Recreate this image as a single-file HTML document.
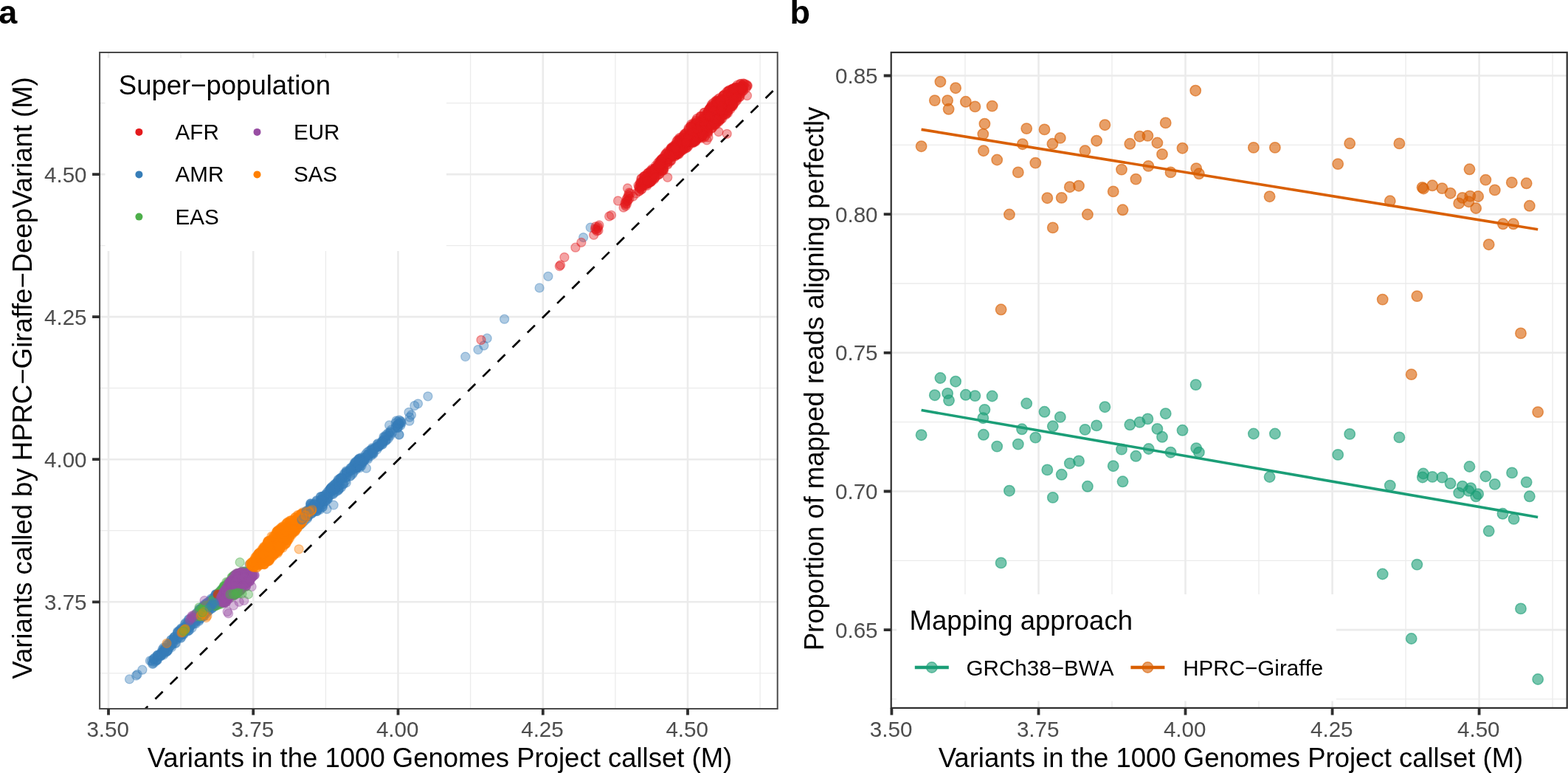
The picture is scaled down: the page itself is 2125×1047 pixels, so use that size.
<!DOCTYPE html>
<html lang="en"><head><meta charset="utf-8"><title>Figure</title><style>html,body{margin:0;padding:0;background:#fff}body{width:2125px;height:1047px;overflow:hidden}svg{display:block}.nk text{font-kerning:none;font-variant-ligatures:none}</style></head><body>
<svg width="2125" height="1047" viewBox="0 0 2125 1047" font-family='"Liberation Sans", Arial, Helvetica, sans-serif'>
<defs>
<clipPath id="ca"><rect x="135.1" y="71.0" width="918.6" height="889.0"/></clipPath>
<clipPath id="cb"><rect x="1207.7" y="71.0" width="915.9999999999998" height="887.9"/></clipPath>
</defs>
<rect width="2125" height="1047" fill="#fff"/>
<g clip-path="url(#ca)">
<g stroke="#ebebeb" fill="none"><path d="M147.0 71.0V960.0" stroke-width="2.6"/><path d="M245.1 71.0V960.0" stroke-width="1.3"/><path d="M343.2 71.0V960.0" stroke-width="2.6"/><path d="M441.4 71.0V960.0" stroke-width="1.3"/><path d="M539.5 71.0V960.0" stroke-width="2.6"/><path d="M637.6 71.0V960.0" stroke-width="1.3"/><path d="M735.8 71.0V960.0" stroke-width="2.6"/><path d="M833.9 71.0V960.0" stroke-width="1.3"/><path d="M932.0 71.0V960.0" stroke-width="2.6"/><path d="M1030.1 71.0V960.0" stroke-width="1.3"/><path d="M135.1 139.6H1053.7" stroke-width="1.3"/><path d="M135.1 236.1H1053.7" stroke-width="2.6"/><path d="M135.1 332.6H1053.7" stroke-width="1.3"/><path d="M135.1 429.1H1053.7" stroke-width="2.6"/><path d="M135.1 525.7H1053.7" stroke-width="1.3"/><path d="M135.1 622.2H1053.7" stroke-width="2.6"/><path d="M135.1 718.7H1053.7" stroke-width="1.3"/><path d="M135.1 815.3H1053.7" stroke-width="2.6"/><path d="M135.1 911.8H1053.7" stroke-width="1.3"/></g>
<rect x="142.5" y="78.5" width="462.5" height="261.5" fill="#fff"/>
<path d="M190.23 966.57L1060.00 110.99" stroke="#000" stroke-width="2.7" stroke-dasharray="14.2 14.1" fill="none"/>
<g fill="#377eb8" stroke="#377eb8" fill-opacity=".4" stroke-opacity=".4" stroke-width="1.3"><circle cx="234.3" cy="871.7" r="6"/><circle cx="231.5" cy="874.7" r="6"/><circle cx="223.8" cy="877.3" r="6"/><circle cx="231.7" cy="874.5" r="6"/><circle cx="253.7" cy="844.9" r="6"/><circle cx="245.1" cy="864.4" r="6"/><circle cx="220.2" cy="886.1" r="6"/><circle cx="250.4" cy="845.4" r="6"/><circle cx="220.6" cy="882.4" r="6"/><circle cx="231.8" cy="866.9" r="6"/><circle cx="245.6" cy="860.1" r="6"/><circle cx="219.9" cy="883.3" r="6"/><circle cx="226.6" cy="873.9" r="6"/><circle cx="208.3" cy="892.9" r="6"/><circle cx="206.6" cy="899.3" r="6"/><circle cx="253.6" cy="853.4" r="6"/><circle cx="232.0" cy="866.4" r="6"/><circle cx="221.7" cy="887.1" r="6"/><circle cx="229.2" cy="870.9" r="6"/><circle cx="215.9" cy="887.1" r="6"/><circle cx="227.8" cy="881.0" r="6"/><circle cx="217.8" cy="887.9" r="6"/><circle cx="250.0" cy="848.9" r="6"/><circle cx="212.7" cy="893.9" r="6"/><circle cx="205.4" cy="895.1" r="6"/><circle cx="211.4" cy="894.6" r="6"/><circle cx="222.2" cy="881.2" r="6"/><circle cx="232.7" cy="876.6" r="6"/><circle cx="219.9" cy="879.9" r="6"/><circle cx="242.4" cy="855.5" r="6"/><circle cx="212.9" cy="888.6" r="6"/><circle cx="236.3" cy="862.5" r="6"/><circle cx="228.7" cy="877.4" r="6"/><circle cx="252.6" cy="849.9" r="6"/><circle cx="252.7" cy="852.8" r="6"/><circle cx="209.5" cy="891.0" r="6"/><circle cx="248.8" cy="859.5" r="6"/><circle cx="235.9" cy="863.3" r="6"/><circle cx="239.3" cy="866.4" r="6"/><circle cx="213.2" cy="894.3" r="6"/><circle cx="238.4" cy="871.2" r="6"/><circle cx="238.3" cy="864.8" r="6"/><circle cx="226.5" cy="872.9" r="6"/><circle cx="241.4" cy="862.4" r="6"/><circle cx="240.8" cy="856.9" r="6"/><circle cx="218.9" cy="883.2" r="6"/><circle cx="245.2" cy="858.4" r="6"/><circle cx="220.9" cy="883.8" r="6"/><circle cx="233.3" cy="868.8" r="6"/><circle cx="217.2" cy="885.8" r="6"/><circle cx="245.9" cy="853.2" r="6"/><circle cx="243.0" cy="863.0" r="6"/><circle cx="245.9" cy="854.2" r="6"/><circle cx="234.1" cy="868.9" r="6"/><circle cx="247.9" cy="852.5" r="6"/><circle cx="254.0" cy="855.2" r="6"/><circle cx="223.2" cy="883.0" r="6"/><circle cx="248.7" cy="858.6" r="6"/><circle cx="210.4" cy="896.2" r="6"/><circle cx="226.2" cy="882.2" r="6"/><circle cx="235.4" cy="865.5" r="6"/><circle cx="235.3" cy="865.2" r="6"/><circle cx="208.0" cy="892.4" r="6"/><circle cx="218.6" cy="887.3" r="6"/><circle cx="209.4" cy="893.6" r="6"/><circle cx="252.8" cy="844.4" r="6"/><circle cx="226.7" cy="881.2" r="6"/><circle cx="213.4" cy="887.1" r="6"/><circle cx="239.9" cy="865.2" r="6"/><circle cx="221.7" cy="877.1" r="6"/><circle cx="214.7" cy="888.3" r="6"/><circle cx="247.3" cy="859.6" r="6"/><circle cx="252.3" cy="850.3" r="6"/><circle cx="224.4" cy="877.8" r="6"/><circle cx="241.5" cy="859.0" r="6"/><circle cx="236.6" cy="862.4" r="6"/><circle cx="246.9" cy="852.2" r="6"/><circle cx="226.2" cy="882.7" r="6"/><circle cx="243.4" cy="853.4" r="6"/><circle cx="230.0" cy="875.5" r="6"/><circle cx="223.6" cy="880.4" r="6"/><circle cx="237.3" cy="871.4" r="6"/><circle cx="246.4" cy="855.2" r="6"/><circle cx="222.7" cy="881.3" r="6"/><circle cx="245.4" cy="863.4" r="6"/><circle cx="234.8" cy="866.4" r="6"/><circle cx="207.5" cy="896.8" r="6"/><circle cx="251.5" cy="843.5" r="6"/><circle cx="240.5" cy="857.0" r="6"/><circle cx="246.2" cy="851.3" r="6"/><circle cx="247.9" cy="858.1" r="6"/><circle cx="252.9" cy="853.9" r="6"/><circle cx="217.7" cy="888.2" r="6"/><circle cx="214.6" cy="890.1" r="6"/><circle cx="215.1" cy="887.9" r="6"/><circle cx="212.7" cy="893.2" r="6"/><circle cx="222.0" cy="879.8" r="6"/><circle cx="252.5" cy="847.3" r="6"/><circle cx="213.4" cy="887.4" r="6"/><circle cx="227.6" cy="879.9" r="6"/><circle cx="222.0" cy="882.8" r="6"/><circle cx="217.9" cy="888.7" r="6"/><circle cx="223.3" cy="884.5" r="6"/><circle cx="245.5" cy="850.9" r="6"/><circle cx="248.2" cy="856.2" r="6"/><circle cx="240.6" cy="855.5" r="6"/><circle cx="232.1" cy="870.2" r="6"/><circle cx="228.9" cy="872.9" r="6"/><circle cx="234.9" cy="870.4" r="6"/><circle cx="207.6" cy="898.9" r="6"/><circle cx="263.2" cy="841.7" r="6"/><circle cx="276.3" cy="834.4" r="6"/><circle cx="257.8" cy="848.2" r="6"/><circle cx="263.0" cy="838.7" r="6"/><circle cx="282.2" cy="815.3" r="6"/><circle cx="288.4" cy="819.7" r="6"/><circle cx="286.2" cy="810.8" r="6"/><circle cx="278.0" cy="828.2" r="6"/><circle cx="292.5" cy="814.6" r="6"/><circle cx="282.8" cy="820.6" r="6"/><circle cx="280.4" cy="826.1" r="6"/><circle cx="286.4" cy="814.4" r="6"/><circle cx="299.9" cy="801.2" r="6"/><circle cx="290.1" cy="810.2" r="6"/><circle cx="270.1" cy="824.8" r="6"/><circle cx="268.8" cy="828.4" r="6"/><circle cx="267.4" cy="834.3" r="6"/><circle cx="289.8" cy="816.7" r="6"/><circle cx="272.2" cy="829.1" r="6"/><circle cx="255.6" cy="843.9" r="6"/><circle cx="273.2" cy="825.3" r="6"/><circle cx="269.4" cy="837.4" r="6"/><circle cx="281.1" cy="827.6" r="6"/><circle cx="274.4" cy="822.1" r="6"/><circle cx="260.1" cy="850.5" r="6"/><circle cx="299.9" cy="805.0" r="6"/><circle cx="287.1" cy="823.9" r="6"/><circle cx="292.3" cy="814.3" r="6"/><circle cx="291.2" cy="820.4" r="6"/><circle cx="271.2" cy="837.9" r="6"/><circle cx="292.8" cy="804.8" r="6"/><circle cx="281.0" cy="828.6" r="6"/><circle cx="289.5" cy="821.9" r="6"/><circle cx="286.9" cy="815.0" r="6"/><circle cx="283.1" cy="827.3" r="6"/><circle cx="295.2" cy="812.8" r="6"/><circle cx="294.9" cy="804.4" r="6"/><circle cx="255.7" cy="838.7" r="6"/><circle cx="269.7" cy="841.3" r="6"/><circle cx="289.5" cy="809.1" r="6"/><circle cx="292.0" cy="805.0" r="6"/><circle cx="270.7" cy="832.4" r="6"/><circle cx="279.5" cy="817.2" r="6"/><circle cx="291.0" cy="813.5" r="6"/><circle cx="278.5" cy="823.8" r="6"/><circle cx="284.7" cy="813.1" r="6"/><circle cx="293.6" cy="807.2" r="6"/><circle cx="265.6" cy="835.8" r="6"/><circle cx="261.4" cy="838.0" r="6"/><circle cx="258.5" cy="847.4" r="6"/><circle cx="265.1" cy="841.8" r="6"/><circle cx="275.4" cy="834.2" r="6"/><circle cx="263.7" cy="838.1" r="6"/><circle cx="258.5" cy="846.2" r="6"/><circle cx="288.5" cy="819.7" r="6"/><circle cx="294.7" cy="812.0" r="6"/><circle cx="286.1" cy="813.5" r="6"/><circle cx="255.9" cy="853.9" r="6"/><circle cx="287.0" cy="813.3" r="6"/><circle cx="285.0" cy="817.1" r="6"/><circle cx="284.9" cy="817.0" r="6"/><circle cx="260.2" cy="838.0" r="6"/><circle cx="266.5" cy="829.9" r="6"/><circle cx="258.6" cy="843.4" r="6"/><circle cx="280.4" cy="816.7" r="6"/><circle cx="281.6" cy="820.2" r="6"/><circle cx="286.8" cy="818.2" r="6"/><circle cx="295.1" cy="806.7" r="6"/><circle cx="280.1" cy="829.1" r="6"/><circle cx="298.8" cy="807.8" r="6"/><circle cx="297.6" cy="805.8" r="6"/><circle cx="271.1" cy="828.3" r="6"/><circle cx="299.0" cy="808.8" r="6"/><circle cx="264.7" cy="840.3" r="6"/><circle cx="280.3" cy="830.8" r="6"/><circle cx="270.1" cy="839.6" r="6"/><circle cx="258.8" cy="846.0" r="6"/><circle cx="255.7" cy="848.2" r="6"/><circle cx="288.1" cy="823.5" r="6"/><circle cx="277.5" cy="818.5" r="6"/><circle cx="276.1" cy="828.0" r="6"/><circle cx="270.0" cy="825.6" r="6"/><circle cx="263.3" cy="839.7" r="6"/><circle cx="285.0" cy="821.7" r="6"/><circle cx="292.8" cy="813.9" r="6"/><circle cx="272.5" cy="837.4" r="6"/><circle cx="288.4" cy="812.7" r="6"/><circle cx="283.9" cy="817.1" r="6"/><circle cx="298.4" cy="805.6" r="6"/><circle cx="277.5" cy="830.1" r="6"/><circle cx="256.7" cy="841.6" r="6"/><circle cx="291.9" cy="806.2" r="6"/><circle cx="261.2" cy="836.0" r="6"/><circle cx="292.9" cy="805.2" r="6"/><circle cx="255.7" cy="839.4" r="6"/><circle cx="291.9" cy="814.0" r="6"/><circle cx="277.5" cy="820.4" r="6"/><circle cx="294.3" cy="807.9" r="6"/><circle cx="288.8" cy="811.7" r="6"/><circle cx="277.6" cy="829.0" r="6"/><circle cx="274.6" cy="825.2" r="6"/><circle cx="274.9" cy="821.0" r="6"/><circle cx="287.9" cy="818.8" r="6"/><circle cx="290.5" cy="815.7" r="6"/><circle cx="296.5" cy="808.6" r="6"/><circle cx="270.5" cy="827.3" r="6"/><circle cx="271.9" cy="834.7" r="6"/><circle cx="256.1" cy="854.0" r="6"/><circle cx="285.7" cy="821.2" r="6"/><circle cx="284.5" cy="825.9" r="6"/><circle cx="257.2" cy="847.3" r="6"/><circle cx="274.5" cy="833.6" r="6"/><circle cx="264.6" cy="843.5" r="6"/><circle cx="265.6" cy="832.6" r="6"/><circle cx="276.1" cy="833.3" r="6"/><circle cx="257.4" cy="849.7" r="6"/><circle cx="274.7" cy="826.7" r="6"/><circle cx="262.6" cy="844.9" r="6"/><circle cx="284.4" cy="820.4" r="6"/><circle cx="291.3" cy="817.1" r="6"/><circle cx="286.5" cy="818.4" r="6"/><circle cx="276.8" cy="821.7" r="6"/><circle cx="271.7" cy="825.6" r="6"/><circle cx="271.8" cy="825.5" r="6"/><circle cx="293.6" cy="814.0" r="6"/><circle cx="299.5" cy="799.0" r="6"/><circle cx="265.4" cy="844.8" r="6"/><circle cx="286.7" cy="816.9" r="6"/><circle cx="274.0" cy="826.4" r="6"/><circle cx="276.5" cy="834.9" r="6"/><circle cx="417.6" cy="699.8" r="6"/><circle cx="363.3" cy="742.0" r="6"/><circle cx="406.6" cy="710.8" r="6"/><circle cx="303.1" cy="802.9" r="6"/><circle cx="306.5" cy="801.2" r="6"/><circle cx="347.7" cy="762.7" r="6"/><circle cx="307.5" cy="804.6" r="6"/><circle cx="330.9" cy="780.1" r="6"/><circle cx="351.2" cy="751.9" r="6"/><circle cx="304.2" cy="798.8" r="6"/><circle cx="378.0" cy="734.7" r="6"/><circle cx="381.1" cy="729.5" r="6"/><circle cx="407.6" cy="710.3" r="6"/><circle cx="409.0" cy="701.9" r="6"/><circle cx="358.2" cy="749.6" r="6"/><circle cx="347.8" cy="761.1" r="6"/><circle cx="418.5" cy="693.6" r="6"/><circle cx="337.1" cy="776.9" r="6"/><circle cx="349.5" cy="753.1" r="6"/><circle cx="409.6" cy="703.3" r="6"/><circle cx="403.0" cy="701.8" r="6"/><circle cx="408.6" cy="699.9" r="6"/><circle cx="316.2" cy="786.9" r="6"/><circle cx="416.6" cy="702.2" r="6"/><circle cx="376.7" cy="730.4" r="6"/><circle cx="405.7" cy="701.4" r="6"/><circle cx="392.3" cy="712.2" r="6"/><circle cx="375.0" cy="729.1" r="6"/><circle cx="300.9" cy="811.8" r="6"/><circle cx="374.9" cy="739.5" r="6"/><circle cx="332.3" cy="779.7" r="6"/><circle cx="374.5" cy="737.1" r="6"/><circle cx="401.6" cy="711.1" r="6"/><circle cx="395.9" cy="722.1" r="6"/><circle cx="407.2" cy="710.5" r="6"/><circle cx="417.5" cy="694.5" r="6"/><circle cx="417.3" cy="699.5" r="6"/><circle cx="417.9" cy="697.0" r="6"/><circle cx="410.5" cy="707.7" r="6"/><circle cx="417.5" cy="691.0" r="6"/><circle cx="353.3" cy="750.4" r="6"/><circle cx="351.0" cy="752.5" r="6"/><circle cx="417.9" cy="697.7" r="6"/><circle cx="301.4" cy="799.1" r="6"/><circle cx="304.3" cy="804.8" r="6"/><circle cx="399.7" cy="714.0" r="6"/><circle cx="313.0" cy="798.0" r="6"/><circle cx="313.5" cy="791.7" r="6"/><circle cx="371.9" cy="733.9" r="6"/><circle cx="301.9" cy="803.2" r="6"/><circle cx="409.1" cy="695.9" r="6"/><circle cx="339.9" cy="772.3" r="6"/><circle cx="330.0" cy="783.0" r="6"/><circle cx="311.2" cy="797.2" r="6"/><circle cx="359.2" cy="745.0" r="6"/><circle cx="381.9" cy="734.1" r="6"/><circle cx="321.9" cy="779.8" r="6"/><circle cx="412.2" cy="697.1" r="6"/><circle cx="404.3" cy="701.1" r="6"/><circle cx="344.1" cy="763.5" r="6"/><circle cx="346.7" cy="758.3" r="6"/><circle cx="318.8" cy="792.3" r="6"/><circle cx="382.2" cy="723.3" r="6"/><circle cx="364.8" cy="751.8" r="6"/><circle cx="358.1" cy="754.2" r="6"/><circle cx="385.8" cy="728.7" r="6"/><circle cx="331.6" cy="778.5" r="6"/><circle cx="413.1" cy="705.3" r="6"/><circle cx="349.8" cy="753.5" r="6"/><circle cx="305.4" cy="799.6" r="6"/><circle cx="409.8" cy="699.6" r="6"/><circle cx="338.0" cy="764.8" r="6"/><circle cx="356.5" cy="746.6" r="6"/><circle cx="388.9" cy="719.8" r="6"/><circle cx="356.3" cy="748.2" r="6"/><circle cx="414.2" cy="695.0" r="6"/><circle cx="356.6" cy="755.0" r="6"/><circle cx="392.5" cy="714.5" r="6"/><circle cx="386.1" cy="730.1" r="6"/><circle cx="403.5" cy="705.9" r="6"/><circle cx="326.9" cy="784.0" r="6"/><circle cx="378.5" cy="729.9" r="6"/><circle cx="346.9" cy="763.7" r="6"/><circle cx="419.3" cy="689.1" r="6"/><circle cx="331.4" cy="774.0" r="6"/><circle cx="415.3" cy="695.1" r="6"/><circle cx="302.5" cy="809.4" r="6"/><circle cx="301.3" cy="802.9" r="6"/><circle cx="323.1" cy="778.3" r="6"/><circle cx="410.8" cy="695.2" r="6"/><circle cx="452.1" cy="664.4" r="6"/><circle cx="434.4" cy="681.1" r="6"/><circle cx="519.9" cy="591.6" r="6"/><circle cx="457.3" cy="655.4" r="6"/><circle cx="514.4" cy="603.6" r="6"/><circle cx="433.6" cy="690.3" r="6"/><circle cx="481.7" cy="625.5" r="6"/><circle cx="427.1" cy="689.2" r="6"/><circle cx="454.3" cy="661.3" r="6"/><circle cx="489.7" cy="619.7" r="6"/><circle cx="437.0" cy="672.5" r="6"/><circle cx="450.7" cy="668.9" r="6"/><circle cx="429.6" cy="692.5" r="6"/><circle cx="491.8" cy="625.6" r="6"/><circle cx="503.9" cy="613.3" r="6"/><circle cx="430.3" cy="687.2" r="6"/><circle cx="448.7" cy="660.7" r="6"/><circle cx="468.9" cy="646.4" r="6"/><circle cx="519.5" cy="598.8" r="6"/><circle cx="426.0" cy="683.2" r="6"/><circle cx="489.5" cy="627.3" r="6"/><circle cx="480.0" cy="627.6" r="6"/><circle cx="421.7" cy="696.2" r="6"/><circle cx="448.5" cy="666.3" r="6"/><circle cx="467.7" cy="647.8" r="6"/><circle cx="490.2" cy="630.7" r="6"/><circle cx="486.6" cy="621.4" r="6"/><circle cx="445.1" cy="668.6" r="6"/><circle cx="437.2" cy="686.6" r="6"/><circle cx="423.4" cy="695.1" r="6"/><circle cx="436.9" cy="681.3" r="6"/><circle cx="510.8" cy="605.2" r="6"/><circle cx="494.3" cy="623.3" r="6"/><circle cx="469.7" cy="646.4" r="6"/><circle cx="469.2" cy="640.2" r="6"/><circle cx="511.0" cy="601.9" r="6"/><circle cx="430.4" cy="689.2" r="6"/><circle cx="460.7" cy="661.0" r="6"/><circle cx="421.2" cy="682.9" r="6"/><circle cx="455.4" cy="659.3" r="6"/><circle cx="505.1" cy="607.9" r="6"/><circle cx="437.6" cy="683.0" r="6"/><circle cx="489.0" cy="624.8" r="6"/><circle cx="429.4" cy="679.8" r="6"/><circle cx="502.3" cy="613.6" r="6"/><circle cx="493.2" cy="619.4" r="6"/><circle cx="488.3" cy="623.7" r="6"/><circle cx="521.4" cy="594.2" r="6"/><circle cx="463.2" cy="647.6" r="6"/><circle cx="457.9" cy="659.6" r="6"/><circle cx="486.1" cy="632.1" r="6"/><circle cx="485.7" cy="628.1" r="6"/><circle cx="528.7" cy="590.5" r="6"/><circle cx="429.3" cy="677.7" r="6"/><circle cx="488.2" cy="631.4" r="6"/><circle cx="462.7" cy="660.1" r="6"/><circle cx="442.1" cy="670.4" r="6"/><circle cx="437.2" cy="686.9" r="6"/><circle cx="433.2" cy="688.7" r="6"/><circle cx="538.4" cy="575.4" r="6"/><circle cx="444.0" cy="673.1" r="6"/><circle cx="449.6" cy="659.3" r="6"/><circle cx="476.3" cy="633.5" r="6"/><circle cx="434.7" cy="672.7" r="6"/><circle cx="542.3" cy="573.0" r="6"/><circle cx="499.5" cy="617.3" r="6"/><circle cx="420.5" cy="695.5" r="6"/><circle cx="456.1" cy="656.9" r="6"/><circle cx="486.6" cy="628.7" r="6"/><circle cx="490.5" cy="623.5" r="6"/><circle cx="525.9" cy="586.5" r="6"/><circle cx="519.2" cy="599.3" r="6"/><circle cx="457.3" cy="657.2" r="6"/><circle cx="539.1" cy="579.7" r="6"/><circle cx="465.7" cy="655.3" r="6"/><circle cx="429.0" cy="678.4" r="6"/><circle cx="501.9" cy="614.2" r="6"/><circle cx="526.0" cy="594.2" r="6"/><circle cx="543.6" cy="571.5" r="6"/><circle cx="458.1" cy="649.7" r="6"/><circle cx="483.9" cy="630.0" r="6"/><circle cx="536.5" cy="577.1" r="6"/><circle cx="512.5" cy="605.1" r="6"/><circle cx="468.7" cy="642.8" r="6"/><circle cx="500.1" cy="610.7" r="6"/><circle cx="511.2" cy="604.9" r="6"/><circle cx="523.1" cy="596.3" r="6"/><circle cx="455.9" cy="654.0" r="6"/><circle cx="480.0" cy="635.1" r="6"/><circle cx="486.1" cy="624.1" r="6"/><circle cx="424.3" cy="687.0" r="6"/><circle cx="542.9" cy="576.2" r="6"/><circle cx="492.4" cy="623.1" r="6"/><circle cx="434.6" cy="677.4" r="6"/><circle cx="464.3" cy="647.7" r="6"/><circle cx="420.8" cy="682.2" r="6"/><circle cx="489.4" cy="628.1" r="6"/><circle cx="498.3" cy="620.3" r="6"/><circle cx="463.1" cy="647.0" r="6"/><circle cx="488.0" cy="621.5" r="6"/><circle cx="541.4" cy="574.3" r="6"/><circle cx="437.6" cy="683.5" r="6"/><circle cx="448.8" cy="666.2" r="6"/><circle cx="498.4" cy="615.3" r="6"/><circle cx="524.7" cy="590.6" r="6"/><circle cx="430.6" cy="689.1" r="6"/><circle cx="538.2" cy="576.0" r="6"/><circle cx="495.3" cy="619.7" r="6"/><circle cx="491.1" cy="627.3" r="6"/><circle cx="492.8" cy="621.7" r="6"/><circle cx="458.8" cy="650.4" r="6"/><circle cx="464.2" cy="655.2" r="6"/><circle cx="530.4" cy="581.9" r="6"/><circle cx="459.0" cy="653.8" r="6"/><circle cx="439.7" cy="678.8" r="6"/><circle cx="441.6" cy="670.0" r="6"/><circle cx="466.3" cy="641.7" r="6"/><circle cx="423.5" cy="687.7" r="6"/><circle cx="538.6" cy="579.0" r="6"/><circle cx="527.5" cy="589.5" r="6"/><circle cx="426.6" cy="687.9" r="6"/><circle cx="434.5" cy="677.5" r="6"/><circle cx="493.7" cy="623.8" r="6"/><circle cx="464.3" cy="648.3" r="6"/><circle cx="447.5" cy="662.6" r="6"/><circle cx="461.5" cy="650.9" r="6"/><circle cx="517.4" cy="597.7" r="6"/><circle cx="519.5" cy="596.1" r="6"/><circle cx="472.8" cy="638.0" r="6"/><circle cx="448.2" cy="661.4" r="6"/><circle cx="482.8" cy="631.5" r="6"/><circle cx="510.9" cy="605.3" r="6"/><circle cx="441.7" cy="678.8" r="6"/><circle cx="507.1" cy="608.6" r="6"/><circle cx="519.6" cy="596.1" r="6"/><circle cx="502.6" cy="617.4" r="6"/><circle cx="453.6" cy="655.7" r="6"/><circle cx="504.8" cy="612.8" r="6"/><circle cx="457.2" cy="652.8" r="6"/><circle cx="469.1" cy="637.9" r="6"/><circle cx="528.7" cy="585.8" r="6"/><circle cx="453.9" cy="662.8" r="6"/><circle cx="481.2" cy="628.4" r="6"/><circle cx="523.2" cy="597.1" r="6"/><circle cx="485.4" cy="623.3" r="6"/><circle cx="484.0" cy="633.6" r="6"/><circle cx="458.6" cy="662.5" r="6"/><circle cx="469.6" cy="639.9" r="6"/><circle cx="514.0" cy="603.3" r="6"/><circle cx="452.8" cy="658.5" r="6"/><circle cx="472.6" cy="639.7" r="6"/><circle cx="515.6" cy="602.0" r="6"/><circle cx="522.4" cy="591.2" r="6"/><circle cx="495.0" cy="619.7" r="6"/><circle cx="424.0" cy="691.0" r="6"/><circle cx="485.0" cy="632.4" r="6"/><circle cx="486.8" cy="624.6" r="6"/><circle cx="420.8" cy="681.9" r="6"/><circle cx="444.6" cy="673.5" r="6"/><circle cx="461.7" cy="648.0" r="6"/><circle cx="492.9" cy="622.0" r="6"/><circle cx="486.7" cy="625.7" r="6"/><circle cx="426.1" cy="687.4" r="6"/><circle cx="481.2" cy="630.4" r="6"/><circle cx="426.8" cy="691.1" r="6"/><circle cx="460.4" cy="657.5" r="6"/><circle cx="443.8" cy="666.2" r="6"/><circle cx="475.3" cy="636.4" r="6"/><circle cx="511.0" cy="608.8" r="6"/><circle cx="504.4" cy="606.7" r="6"/><circle cx="444.3" cy="676.2" r="6"/><circle cx="437.0" cy="672.4" r="6"/><circle cx="460.7" cy="648.0" r="6"/><circle cx="445.8" cy="664.5" r="6"/><circle cx="507.3" cy="607.3" r="6"/><circle cx="428.9" cy="691.7" r="6"/><circle cx="492.0" cy="624.6" r="6"/><circle cx="531.5" cy="586.3" r="6"/><circle cx="447.1" cy="663.7" r="6"/><circle cx="475.5" cy="637.0" r="6"/><circle cx="445.0" cy="669.2" r="6"/><circle cx="505.9" cy="609.5" r="6"/><circle cx="463.9" cy="648.2" r="6"/><circle cx="433.8" cy="680.2" r="6"/><circle cx="480.4" cy="629.0" r="6"/><circle cx="480.2" cy="629.7" r="6"/><circle cx="440.3" cy="679.4" r="6"/><circle cx="498.8" cy="615.7" r="6"/><circle cx="544.1" cy="573.1" r="6"/><circle cx="535.8" cy="579.6" r="6"/><circle cx="478.9" cy="639.8" r="6"/><circle cx="465.2" cy="656.1" r="6"/><circle cx="518.3" cy="598.8" r="6"/><circle cx="518.4" cy="597.7" r="6"/><circle cx="426.1" cy="692.7" r="6"/><circle cx="451.8" cy="657.4" r="6"/><circle cx="469.1" cy="639.1" r="6"/><circle cx="458.9" cy="663.2" r="6"/><circle cx="469.3" cy="653.8" r="6"/><circle cx="543.0" cy="570.3" r="6"/><circle cx="485.6" cy="624.2" r="6"/><circle cx="527.5" cy="587.1" r="6"/><circle cx="511.7" cy="605.1" r="6"/><circle cx="435.1" cy="678.8" r="6"/><circle cx="483.5" cy="632.0" r="6"/><circle cx="451.5" cy="669.5" r="6"/><circle cx="505.9" cy="615.0" r="6"/><circle cx="458.9" cy="658.1" r="6"/><circle cx="528.9" cy="584.5" r="6"/><circle cx="498.6" cy="622.1" r="6"/><circle cx="481.5" cy="634.9" r="6"/><circle cx="425.9" cy="682.8" r="6"/><circle cx="491.0" cy="625.9" r="6"/><circle cx="495.1" cy="615.7" r="6"/><circle cx="448.2" cy="664.8" r="6"/><circle cx="504.7" cy="614.6" r="6"/><circle cx="429.3" cy="689.0" r="6"/><circle cx="504.6" cy="612.9" r="6"/><circle cx="513.0" cy="602.0" r="6"/><circle cx="443.1" cy="674.0" r="6"/><circle cx="448.0" cy="663.7" r="6"/><circle cx="498.2" cy="616.9" r="6"/><circle cx="455.9" cy="665.8" r="6"/><circle cx="424.1" cy="690.6" r="6"/><circle cx="440.3" cy="673.5" r="6"/><circle cx="474.4" cy="645.2" r="6"/><circle cx="492.7" cy="622.4" r="6"/><circle cx="486.6" cy="630.8" r="6"/><circle cx="477.9" cy="642.1" r="6"/><circle cx="482.2" cy="626.9" r="6"/><circle cx="495.0" cy="620.5" r="6"/><circle cx="423.2" cy="691.3" r="6"/><circle cx="420.6" cy="684.8" r="6"/><circle cx="515.5" cy="601.9" r="6"/><circle cx="458.0" cy="653.9" r="6"/><circle cx="487.9" cy="628.2" r="6"/><circle cx="454.1" cy="656.0" r="6"/><circle cx="447.6" cy="670.8" r="6"/><circle cx="442.5" cy="676.5" r="6"/><circle cx="424.1" cy="685.4" r="6"/><circle cx="522.5" cy="596.1" r="6"/><circle cx="468.1" cy="651.4" r="6"/><circle cx="453.2" cy="660.9" r="6"/><circle cx="520.9" cy="592.3" r="6"/><circle cx="470.4" cy="640.4" r="6"/><circle cx="438.9" cy="672.1" r="6"/><circle cx="502.6" cy="609.3" r="6"/><circle cx="497.5" cy="612.8" r="6"/><circle cx="465.8" cy="644.0" r="6"/><circle cx="488.0" cy="625.2" r="6"/><circle cx="444.6" cy="675.1" r="6"/><circle cx="436.7" cy="677.8" r="6"/><circle cx="453.0" cy="667.2" r="6"/><circle cx="498.3" cy="615.7" r="6"/><circle cx="507.1" cy="607.5" r="6"/><circle cx="512.0" cy="600.7" r="6"/><circle cx="423.1" cy="694.5" r="6"/><circle cx="421.8" cy="686.9" r="6"/><circle cx="482.3" cy="636.4" r="6"/><circle cx="482.9" cy="633.5" r="6"/><circle cx="503.0" cy="609.8" r="6"/><circle cx="429.3" cy="692.4" r="6"/><circle cx="427.8" cy="687.4" r="6"/><circle cx="436.4" cy="675.1" r="6"/><circle cx="431.9" cy="687.9" r="6"/><circle cx="484.0" cy="633.4" r="6"/><circle cx="447.3" cy="662.3" r="6"/><circle cx="434.5" cy="672.8" r="6"/><circle cx="422.6" cy="683.5" r="6"/><circle cx="441.1" cy="669.5" r="6"/><circle cx="432.3" cy="683.3" r="6"/><circle cx="506.4" cy="613.3" r="6"/><circle cx="478.4" cy="631.2" r="6"/><circle cx="489.5" cy="623.6" r="6"/><circle cx="451.7" cy="663.7" r="6"/><circle cx="461.8" cy="647.1" r="6"/><circle cx="487.8" cy="633.5" r="6"/><circle cx="518.3" cy="598.6" r="6"/><circle cx="518.4" cy="601.9" r="6"/><circle cx="539.6" cy="578.4" r="6"/><circle cx="540.5" cy="573.2" r="6"/><circle cx="423.9" cy="685.4" r="6"/><circle cx="436.3" cy="676.0" r="6"/><circle cx="487.5" cy="622.8" r="6"/><circle cx="475.4" cy="644.3" r="6"/><circle cx="458.4" cy="664.2" r="6"/><circle cx="456.8" cy="660.4" r="6"/><circle cx="513.4" cy="605.2" r="6"/><circle cx="486.8" cy="621.0" r="6"/><circle cx="426.0" cy="682.6" r="6"/><circle cx="454.5" cy="663.0" r="6"/><circle cx="538.2" cy="576.6" r="6"/><circle cx="523.1" cy="589.1" r="6"/><circle cx="475.8" cy="637.6" r="6"/><circle cx="448.3" cy="661.1" r="6"/><circle cx="474.6" cy="635.8" r="6"/><circle cx="475.0" cy="633.8" r="6"/><circle cx="485.4" cy="622.5" r="6"/><circle cx="517.9" cy="602.0" r="6"/><circle cx="482.4" cy="625.7" r="6"/><circle cx="175.5" cy="919.9" r="6"/><circle cx="184.6" cy="915.0" r="6"/><circle cx="186.2" cy="913.4" r="6"/><circle cx="192.9" cy="907.2" r="6"/><circle cx="203.3" cy="894.9" r="6"/><circle cx="452.1" cy="684.1" r="6"/><circle cx="443.0" cy="689.5" r="6"/><circle cx="496.4" cy="634.2" r="6"/><circle cx="541.0" cy="588.6" r="6"/><circle cx="540.8" cy="589.1" r="6"/><circle cx="527.6" cy="575.9" r="6"/><circle cx="554.9" cy="570.2" r="6"/><circle cx="554.0" cy="558.5" r="6"/><circle cx="557.5" cy="562.0" r="6"/><circle cx="555.2" cy="565.0" r="6"/><circle cx="561.8" cy="549.5" r="6"/><circle cx="566.5" cy="546.8" r="6"/><circle cx="579.9" cy="536.8" r="6"/><circle cx="536.0" cy="573.0" r="6"/><circle cx="539.0" cy="571.0" r="6"/><circle cx="540.0" cy="574.5" r="6"/><circle cx="537.0" cy="570.0" r="6"/><circle cx="541.0" cy="569.0" r="6"/><circle cx="630.7" cy="483.1" r="6"/><circle cx="647.9" cy="473.6" r="6"/><circle cx="655.8" cy="468.0" r="6"/><circle cx="660.1" cy="458.2" r="6"/><circle cx="683.6" cy="432.2" r="6"/><circle cx="731.1" cy="389.9" r="6"/><circle cx="742.9" cy="374.3" r="6"/><circle cx="790.6" cy="321.6" r="6"/><circle cx="800.2" cy="308.1" r="6"/></g>
<g fill="#ff7f00" stroke="#ff7f00" fill-opacity=".4" stroke-opacity=".4" stroke-width="1.3"><circle cx="225.9" cy="871.4" r="6"/><circle cx="247.0" cy="856.0" r="6"/><circle cx="250.0" cy="853.0" r="6"/></g>
<g fill="#4daf4a" stroke="#4daf4a" fill-opacity=".4" stroke-opacity=".4" stroke-width="1.3"><circle cx="320.3" cy="787.6" r="6"/><circle cx="329.9" cy="792.1" r="6"/><circle cx="335.6" cy="785.9" r="6"/><circle cx="322.0" cy="776.5" r="6"/><circle cx="303.9" cy="793.8" r="6"/><circle cx="311.8" cy="789.4" r="6"/><circle cx="322.5" cy="784.6" r="6"/><circle cx="303.6" cy="797.6" r="6"/><circle cx="297.4" cy="811.1" r="6"/><circle cx="318.1" cy="778.9" r="6"/><circle cx="299.4" cy="818.2" r="6"/><circle cx="320.8" cy="800.0" r="6"/><circle cx="328.6" cy="775.8" r="6"/><circle cx="337.2" cy="781.2" r="6"/><circle cx="297.5" cy="802.0" r="6"/><circle cx="327.2" cy="775.1" r="6"/><circle cx="297.5" cy="805.3" r="6"/><circle cx="311.8" cy="790.4" r="6"/><circle cx="328.9" cy="780.6" r="6"/><circle cx="305.5" cy="812.6" r="6"/><circle cx="323.7" cy="786.3" r="6"/><circle cx="302.9" cy="804.7" r="6"/><circle cx="329.2" cy="777.5" r="6"/><circle cx="307.2" cy="809.8" r="6"/><circle cx="303.3" cy="796.9" r="6"/><circle cx="304.3" cy="813.9" r="6"/><circle cx="299.3" cy="816.6" r="6"/><circle cx="299.6" cy="805.1" r="6"/><circle cx="337.0" cy="783.3" r="6"/><circle cx="311.3" cy="796.3" r="6"/><circle cx="310.0" cy="798.0" r="6"/><circle cx="307.1" cy="806.8" r="6"/><circle cx="310.1" cy="802.6" r="6"/><circle cx="314.9" cy="790.0" r="6"/><circle cx="328.1" cy="786.6" r="6"/><circle cx="307.8" cy="809.9" r="6"/><circle cx="316.7" cy="800.1" r="6"/><circle cx="300.4" cy="799.0" r="6"/><circle cx="322.4" cy="784.6" r="6"/><circle cx="306.0" cy="797.9" r="6"/><circle cx="295.1" cy="805.1" r="6"/><circle cx="314.6" cy="781.9" r="6"/><circle cx="320.2" cy="786.7" r="6"/><circle cx="316.1" cy="785.7" r="6"/><circle cx="329.3" cy="782.7" r="6"/><circle cx="322.3" cy="800.7" r="6"/><circle cx="303.9" cy="803.5" r="6"/><circle cx="296.1" cy="819.0" r="6"/><circle cx="295.5" cy="813.3" r="6"/><circle cx="301.3" cy="798.1" r="6"/><circle cx="294.4" cy="819.5" r="6"/><circle cx="297.7" cy="817.4" r="6"/><circle cx="313.7" cy="792.6" r="6"/><circle cx="322.7" cy="776.3" r="6"/><circle cx="317.7" cy="806.1" r="6"/><circle cx="292.5" cy="817.8" r="6"/><circle cx="301.9" cy="801.8" r="6"/><circle cx="317.7" cy="797.3" r="6"/><circle cx="307.6" cy="808.4" r="6"/><circle cx="316.7" cy="779.4" r="6"/><circle cx="313.9" cy="786.3" r="6"/><circle cx="332.1" cy="786.2" r="6"/><circle cx="322.4" cy="778.4" r="6"/><circle cx="318.4" cy="779.4" r="6"/><circle cx="328.3" cy="787.9" r="6"/><circle cx="318.0" cy="792.9" r="6"/><circle cx="297.2" cy="801.4" r="6"/><circle cx="330.8" cy="775.4" r="6"/><circle cx="301.7" cy="796.9" r="6"/><circle cx="300.6" cy="808.0" r="6"/><circle cx="299.3" cy="805.0" r="6"/><circle cx="311.1" cy="803.4" r="6"/><circle cx="299.5" cy="813.9" r="6"/><circle cx="330.2" cy="790.0" r="6"/><circle cx="302.1" cy="797.0" r="6"/><circle cx="333.2" cy="774.3" r="6"/><circle cx="306.0" cy="811.4" r="6"/><circle cx="297.6" cy="806.6" r="6"/><circle cx="328.6" cy="785.2" r="6"/><circle cx="298.4" cy="804.8" r="6"/><circle cx="321.7" cy="790.7" r="6"/><circle cx="302.3" cy="802.9" r="6"/><circle cx="325.2" cy="792.7" r="6"/><circle cx="329.0" cy="790.9" r="6"/><circle cx="319.9" cy="780.8" r="6"/><circle cx="308.6" cy="788.7" r="6"/><circle cx="331.5" cy="790.7" r="6"/><circle cx="299.5" cy="815.2" r="6"/><circle cx="318.4" cy="795.5" r="6"/><circle cx="295.9" cy="803.6" r="6"/><circle cx="325.6" cy="790.1" r="6"/><circle cx="292.4" cy="820.7" r="6"/><circle cx="303.1" cy="800.6" r="6"/><circle cx="301.0" cy="815.9" r="6"/><circle cx="301.5" cy="814.6" r="6"/><circle cx="310.9" cy="797.1" r="6"/><circle cx="304.0" cy="794.8" r="6"/><circle cx="300.4" cy="809.0" r="6"/><circle cx="308.5" cy="790.8" r="6"/><circle cx="308.4" cy="803.0" r="6"/><circle cx="303.2" cy="793.6" r="6"/><circle cx="316.8" cy="806.5" r="6"/><circle cx="320.6" cy="801.3" r="6"/><circle cx="304.9" cy="812.0" r="6"/><circle cx="333.0" cy="788.5" r="6"/><circle cx="324.0" cy="792.6" r="6"/><circle cx="327.3" cy="790.8" r="6"/><circle cx="328.2" cy="774.1" r="6"/><circle cx="319.7" cy="791.7" r="6"/><circle cx="301.6" cy="806.1" r="6"/><circle cx="310.2" cy="796.6" r="6"/><circle cx="302.6" cy="816.0" r="6"/><circle cx="320.1" cy="797.4" r="6"/><circle cx="335.0" cy="778.4" r="6"/><circle cx="316.5" cy="801.2" r="6"/><circle cx="323.4" cy="777.3" r="6"/><circle cx="290.4" cy="820.3" r="6"/><circle cx="335.2" cy="787.0" r="6"/><circle cx="297.8" cy="809.2" r="6"/><circle cx="335.8" cy="785.8" r="6"/><circle cx="313.1" cy="786.1" r="6"/><circle cx="303.1" cy="809.3" r="6"/><circle cx="332.0" cy="775.9" r="6"/><circle cx="320.9" cy="804.1" r="6"/><circle cx="307.6" cy="795.2" r="6"/><circle cx="316.8" cy="805.8" r="6"/><circle cx="307.8" cy="795.5" r="6"/><circle cx="295.6" cy="809.3" r="6"/><circle cx="336.9" cy="774.3" r="6"/><circle cx="306.9" cy="788.4" r="6"/><circle cx="320.1" cy="801.2" r="6"/><circle cx="317.6" cy="799.8" r="6"/><circle cx="319.2" cy="794.1" r="6"/><circle cx="319.1" cy="801.3" r="6"/><circle cx="331.0" cy="790.0" r="6"/><circle cx="329.3" cy="786.8" r="6"/><circle cx="333.9" cy="774.4" r="6"/><circle cx="326.9" cy="793.3" r="6"/><circle cx="310.5" cy="795.6" r="6"/><circle cx="335.5" cy="774.6" r="6"/><circle cx="334.8" cy="784.6" r="6"/><circle cx="296.0" cy="809.8" r="6"/><circle cx="330.1" cy="786.8" r="6"/><circle cx="322.9" cy="784.6" r="6"/><circle cx="299.3" cy="802.0" r="6"/><circle cx="326.5" cy="796.9" r="6"/><circle cx="313.9" cy="781.9" r="6"/><circle cx="302.2" cy="807.2" r="6"/><circle cx="328.2" cy="784.2" r="6"/><circle cx="295.4" cy="817.0" r="6"/><circle cx="314.3" cy="793.1" r="6"/><circle cx="338.0" cy="781.0" r="6"/><circle cx="294.5" cy="811.0" r="6"/><circle cx="308.2" cy="799.3" r="6"/><circle cx="292.2" cy="815.5" r="6"/><circle cx="334.1" cy="782.6" r="6"/><circle cx="316.5" cy="780.5" r="6"/><circle cx="298.7" cy="802.0" r="6"/><circle cx="294.2" cy="816.7" r="6"/><circle cx="316.3" cy="799.1" r="6"/><circle cx="326.8" cy="778.1" r="6"/><circle cx="325.7" cy="796.1" r="6"/><circle cx="329.5" cy="776.2" r="6"/><circle cx="303.5" cy="801.4" r="6"/><circle cx="315.5" cy="782.0" r="6"/><circle cx="310.7" cy="792.2" r="6"/><circle cx="316.4" cy="786.2" r="6"/><circle cx="327.4" cy="775.8" r="6"/><circle cx="310.8" cy="794.8" r="6"/><circle cx="312.9" cy="809.1" r="6"/><circle cx="302.2" cy="811.8" r="6"/><circle cx="329.9" cy="785.1" r="6"/><circle cx="314.9" cy="785.9" r="6"/><circle cx="306.4" cy="801.0" r="6"/><circle cx="301.9" cy="808.3" r="6"/><circle cx="314.4" cy="796.7" r="6"/><circle cx="335.3" cy="783.1" r="6"/><circle cx="318.2" cy="805.5" r="6"/><circle cx="292.9" cy="815.8" r="6"/><circle cx="304.8" cy="814.8" r="6"/><circle cx="325.4" cy="793.6" r="6"/><circle cx="311.4" cy="806.4" r="6"/><circle cx="329.6" cy="775.5" r="6"/><circle cx="291.9" cy="820.2" r="6"/><circle cx="302.6" cy="814.7" r="6"/><circle cx="331.0" cy="774.2" r="6"/><circle cx="321.2" cy="786.1" r="6"/><circle cx="311.3" cy="788.5" r="6"/><circle cx="328.5" cy="779.1" r="6"/><circle cx="320.3" cy="799.7" r="6"/><circle cx="321.8" cy="803.4" r="6"/><circle cx="329.2" cy="787.4" r="6"/><circle cx="323.3" cy="788.4" r="6"/><circle cx="295.5" cy="816.3" r="6"/><circle cx="302.2" cy="798.2" r="6"/><circle cx="324.2" cy="780.1" r="6"/><circle cx="293.3" cy="813.1" r="6"/><circle cx="303.7" cy="794.6" r="6"/><circle cx="311.3" cy="802.8" r="6"/><circle cx="331.0" cy="787.2" r="6"/><circle cx="273.6" cy="832.4" r="6"/><circle cx="270.6" cy="826.7" r="6"/><circle cx="275.1" cy="824.4" r="6"/><circle cx="265.4" cy="831.7" r="6"/><circle cx="288.0" cy="819.8" r="6"/><circle cx="278.2" cy="820.1" r="6"/><circle cx="279.8" cy="824.3" r="6"/><circle cx="280.3" cy="821.5" r="6"/><circle cx="270.1" cy="835.0" r="6"/><circle cx="274.1" cy="824.0" r="6"/><circle cx="275.7" cy="824.8" r="6"/><circle cx="289.3" cy="816.1" r="6"/><circle cx="278.8" cy="820.0" r="6"/><circle cx="275.8" cy="825.2" r="6"/><circle cx="286.6" cy="815.5" r="6"/><circle cx="287.3" cy="817.8" r="6"/><circle cx="271.5" cy="828.8" r="6"/><circle cx="265.7" cy="834.6" r="6"/><circle cx="291.0" cy="820.0" r="6"/><circle cx="287.5" cy="813.0" r="6"/><circle cx="280.9" cy="823.7" r="6"/><circle cx="290.9" cy="817.5" r="6"/><circle cx="325.1" cy="761.6" r="6"/><circle cx="288.4" cy="817.2" r="6"/><circle cx="275.2" cy="827.5" r="6"/><circle cx="272.9" cy="834.7" r="6"/><circle cx="269.9" cy="822.8" r="6"/><circle cx="249.0" cy="855.5" r="6"/><circle cx="251.0" cy="852.5" r="6"/></g>
<g fill="#e41a1c" stroke="#e41a1c" fill-opacity=".4" stroke-opacity=".4" stroke-width="1.3"><circle cx="294.9" cy="804.9" r="6"/><circle cx="296.0" cy="806.0" r="6"/></g>
<g fill="#984ea3" stroke="#984ea3" fill-opacity=".4" stroke-opacity=".4" stroke-width="1.3"><circle cx="311.0" cy="807.1" r="6"/><circle cx="320.4" cy="793.6" r="6"/><circle cx="332.3" cy="781.7" r="6"/><circle cx="325.7" cy="775.4" r="6"/><circle cx="341.9" cy="781.3" r="6"/><circle cx="326.6" cy="784.3" r="6"/><circle cx="329.9" cy="779.3" r="6"/><circle cx="317.0" cy="794.4" r="6"/><circle cx="322.3" cy="789.9" r="6"/><circle cx="326.4" cy="780.9" r="6"/><circle cx="320.8" cy="776.5" r="6"/><circle cx="317.3" cy="800.8" r="6"/><circle cx="313.4" cy="806.3" r="6"/><circle cx="302.8" cy="813.9" r="6"/><circle cx="304.5" cy="807.5" r="6"/><circle cx="321.1" cy="790.1" r="6"/><circle cx="308.4" cy="811.1" r="6"/><circle cx="331.7" cy="788.9" r="6"/><circle cx="330.2" cy="784.7" r="6"/><circle cx="322.5" cy="786.9" r="6"/><circle cx="314.4" cy="795.7" r="6"/><circle cx="321.3" cy="797.2" r="6"/><circle cx="331.4" cy="781.2" r="6"/><circle cx="317.8" cy="802.6" r="6"/><circle cx="327.3" cy="796.5" r="6"/><circle cx="329.2" cy="784.9" r="6"/><circle cx="305.7" cy="816.4" r="6"/><circle cx="318.6" cy="787.4" r="6"/><circle cx="317.9" cy="802.3" r="6"/><circle cx="325.2" cy="797.4" r="6"/><circle cx="309.0" cy="803.2" r="6"/><circle cx="312.0" cy="796.9" r="6"/><circle cx="326.6" cy="797.5" r="6"/><circle cx="326.2" cy="797.9" r="6"/><circle cx="308.1" cy="804.0" r="6"/><circle cx="327.6" cy="785.7" r="6"/><circle cx="303.1" cy="816.1" r="6"/><circle cx="319.8" cy="782.8" r="6"/><circle cx="326.0" cy="787.0" r="6"/><circle cx="313.9" cy="802.0" r="6"/><circle cx="304.8" cy="813.4" r="6"/><circle cx="301.2" cy="807.0" r="6"/><circle cx="299.8" cy="811.1" r="6"/><circle cx="326.8" cy="786.5" r="6"/><circle cx="316.5" cy="796.3" r="6"/><circle cx="314.1" cy="791.6" r="6"/><circle cx="309.1" cy="798.3" r="6"/><circle cx="340.7" cy="782.9" r="6"/><circle cx="302.6" cy="812.6" r="6"/><circle cx="336.2" cy="775.1" r="6"/><circle cx="317.4" cy="779.9" r="6"/><circle cx="313.3" cy="785.5" r="6"/><circle cx="330.7" cy="786.1" r="6"/><circle cx="334.0" cy="788.4" r="6"/><circle cx="330.4" cy="789.9" r="6"/><circle cx="326.9" cy="798.9" r="6"/><circle cx="305.1" cy="812.8" r="6"/><circle cx="328.8" cy="781.9" r="6"/><circle cx="305.1" cy="807.9" r="6"/><circle cx="322.1" cy="801.9" r="6"/><circle cx="330.0" cy="780.5" r="6"/><circle cx="324.4" cy="798.3" r="6"/><circle cx="300.1" cy="807.5" r="6"/><circle cx="312.4" cy="790.8" r="6"/><circle cx="303.9" cy="810.0" r="6"/><circle cx="324.4" cy="777.0" r="6"/><circle cx="320.5" cy="778.7" r="6"/><circle cx="324.1" cy="800.5" r="6"/><circle cx="317.0" cy="796.1" r="6"/><circle cx="336.8" cy="786.1" r="6"/><circle cx="306.3" cy="802.5" r="6"/><circle cx="340.8" cy="778.1" r="6"/><circle cx="323.2" cy="796.5" r="6"/><circle cx="322.1" cy="783.0" r="6"/><circle cx="322.3" cy="787.7" r="6"/><circle cx="343.5" cy="779.8" r="6"/><circle cx="337.4" cy="784.2" r="6"/><circle cx="318.0" cy="791.8" r="6"/><circle cx="311.9" cy="789.1" r="6"/><circle cx="336.7" cy="777.7" r="6"/><circle cx="326.5" cy="780.9" r="6"/><circle cx="333.2" cy="790.9" r="6"/><circle cx="333.7" cy="776.2" r="6"/><circle cx="313.6" cy="791.8" r="6"/><circle cx="306.2" cy="810.3" r="6"/><circle cx="312.8" cy="787.3" r="6"/><circle cx="339.0" cy="781.0" r="6"/><circle cx="314.4" cy="799.1" r="6"/><circle cx="325.2" cy="794.4" r="6"/><circle cx="317.2" cy="786.2" r="6"/><circle cx="317.9" cy="798.2" r="6"/><circle cx="317.3" cy="794.2" r="6"/><circle cx="323.6" cy="776.9" r="6"/><circle cx="333.4" cy="783.1" r="6"/><circle cx="332.6" cy="786.5" r="6"/><circle cx="318.2" cy="786.8" r="6"/><circle cx="307.2" cy="802.8" r="6"/><circle cx="318.2" cy="804.2" r="6"/><circle cx="314.8" cy="806.4" r="6"/><circle cx="321.5" cy="780.5" r="6"/><circle cx="336.2" cy="781.0" r="6"/><circle cx="307.1" cy="807.5" r="6"/><circle cx="306.5" cy="808.6" r="6"/><circle cx="311.6" cy="789.0" r="6"/><circle cx="306.9" cy="809.5" r="6"/><circle cx="310.4" cy="791.8" r="6"/><circle cx="334.1" cy="785.7" r="6"/><circle cx="311.3" cy="793.5" r="6"/><circle cx="303.7" cy="805.6" r="6"/><circle cx="306.0" cy="799.5" r="6"/><circle cx="307.9" cy="798.8" r="6"/><circle cx="323.7" cy="801.4" r="6"/><circle cx="330.7" cy="786.7" r="6"/><circle cx="310.6" cy="801.4" r="6"/><circle cx="339.7" cy="776.1" r="6"/><circle cx="305.0" cy="807.4" r="6"/><circle cx="338.6" cy="786.9" r="6"/><circle cx="321.3" cy="779.3" r="6"/><circle cx="331.6" cy="788.9" r="6"/><circle cx="335.3" cy="788.5" r="6"/><circle cx="310.6" cy="796.9" r="6"/><circle cx="336.9" cy="775.6" r="6"/><circle cx="321.9" cy="794.0" r="6"/><circle cx="337.0" cy="786.9" r="6"/><circle cx="332.7" cy="794.5" r="6"/><circle cx="341.2" cy="780.9" r="6"/><circle cx="304.8" cy="805.9" r="6"/><circle cx="324.9" cy="776.8" r="6"/><circle cx="308.0" cy="811.8" r="6"/><circle cx="324.0" cy="795.6" r="6"/><circle cx="326.8" cy="792.3" r="6"/><circle cx="319.8" cy="793.1" r="6"/><circle cx="332.1" cy="776.2" r="6"/><circle cx="312.6" cy="795.5" r="6"/><circle cx="308.7" cy="806.9" r="6"/><circle cx="323.3" cy="797.7" r="6"/><circle cx="323.9" cy="788.8" r="6"/><circle cx="310.8" cy="789.5" r="6"/><circle cx="310.3" cy="791.1" r="6"/><circle cx="314.5" cy="789.6" r="6"/><circle cx="339.5" cy="776.7" r="6"/><circle cx="320.3" cy="795.6" r="6"/><circle cx="341.7" cy="781.9" r="6"/><circle cx="325.7" cy="782.0" r="6"/><circle cx="306.8" cy="809.1" r="6"/><circle cx="323.5" cy="790.3" r="6"/><circle cx="327.0" cy="776.9" r="6"/><circle cx="313.8" cy="789.8" r="6"/><circle cx="313.7" cy="800.9" r="6"/><circle cx="328.7" cy="777.3" r="6"/><circle cx="334.1" cy="781.7" r="6"/><circle cx="306.9" cy="803.7" r="6"/><circle cx="327.4" cy="797.8" r="6"/><circle cx="337.3" cy="777.5" r="6"/><circle cx="324.7" cy="793.1" r="6"/><circle cx="318.2" cy="792.7" r="6"/><circle cx="331.3" cy="788.3" r="6"/><circle cx="319.1" cy="777.9" r="6"/><circle cx="325.6" cy="782.8" r="6"/><circle cx="313.7" cy="802.2" r="6"/><circle cx="322.1" cy="786.0" r="6"/><circle cx="311.6" cy="793.6" r="6"/><circle cx="333.7" cy="785.1" r="6"/><circle cx="322.8" cy="798.4" r="6"/><circle cx="325.2" cy="777.4" r="6"/><circle cx="318.5" cy="803.8" r="6"/><circle cx="321.8" cy="776.8" r="6"/><circle cx="308.6" cy="808.3" r="6"/><circle cx="337.5" cy="786.6" r="6"/><circle cx="318.2" cy="802.4" r="6"/><circle cx="320.0" cy="790.2" r="6"/><circle cx="304.0" cy="806.5" r="6"/><circle cx="316.3" cy="799.1" r="6"/><circle cx="333.7" cy="793.7" r="6"/><circle cx="325.9" cy="797.7" r="6"/><circle cx="310.4" cy="794.7" r="6"/><circle cx="314.3" cy="789.2" r="6"/><circle cx="322.9" cy="799.7" r="6"/><circle cx="315.6" cy="792.2" r="6"/><circle cx="325.1" cy="787.3" r="6"/><circle cx="313.9" cy="788.9" r="6"/><circle cx="334.4" cy="787.2" r="6"/><circle cx="307.9" cy="802.9" r="6"/><circle cx="322.8" cy="796.9" r="6"/><circle cx="333.9" cy="789.2" r="6"/><circle cx="310.0" cy="789.4" r="6"/><circle cx="302.8" cy="802.3" r="6"/><circle cx="305.6" cy="810.0" r="6"/><circle cx="315.7" cy="800.6" r="6"/><circle cx="319.3" cy="793.4" r="6"/><circle cx="331.6" cy="784.8" r="6"/><circle cx="327.7" cy="784.5" r="6"/><circle cx="320.2" cy="789.7" r="6"/><circle cx="323.8" cy="779.8" r="6"/><circle cx="307.7" cy="812.9" r="6"/><circle cx="317.5" cy="789.0" r="6"/><circle cx="308.7" cy="803.8" r="6"/><circle cx="339.1" cy="781.3" r="6"/><circle cx="333.6" cy="788.9" r="6"/><circle cx="340.0" cy="778.6" r="6"/><circle cx="318.5" cy="804.3" r="6"/><circle cx="332.6" cy="781.1" r="6"/><circle cx="338.8" cy="782.3" r="6"/><circle cx="307.4" cy="806.5" r="6"/><circle cx="323.1" cy="792.5" r="6"/><circle cx="324.5" cy="785.5" r="6"/><circle cx="327.8" cy="783.8" r="6"/><circle cx="333.0" cy="779.6" r="6"/><circle cx="319.2" cy="790.2" r="6"/><circle cx="325.1" cy="781.0" r="6"/><circle cx="322.6" cy="784.9" r="6"/><circle cx="324.6" cy="799.5" r="6"/><circle cx="328.3" cy="790.2" r="6"/><circle cx="327.5" cy="782.9" r="6"/><circle cx="339.1" cy="776.3" r="6"/><circle cx="326.1" cy="775.9" r="6"/><circle cx="316.6" cy="796.8" r="6"/><circle cx="330.5" cy="776.3" r="6"/><circle cx="334.2" cy="780.6" r="6"/><circle cx="314.4" cy="785.4" r="6"/><circle cx="323.6" cy="786.3" r="6"/><circle cx="319.4" cy="798.8" r="6"/><circle cx="325.7" cy="776.4" r="6"/><circle cx="307.6" cy="794.7" r="6"/><circle cx="309.8" cy="809.7" r="6"/><circle cx="315.7" cy="797.3" r="6"/><circle cx="329.7" cy="793.3" r="6"/><circle cx="315.5" cy="784.5" r="6"/><circle cx="303.6" cy="803.0" r="6"/><circle cx="320.5" cy="779.3" r="6"/><circle cx="302.8" cy="802.3" r="6"/><circle cx="324.9" cy="800.8" r="6"/><circle cx="321.4" cy="791.7" r="6"/><circle cx="344.9" cy="779.0" r="6"/><circle cx="314.6" cy="791.6" r="6"/><circle cx="331.7" cy="782.8" r="6"/><circle cx="321.3" cy="802.3" r="6"/><circle cx="299.8" cy="810.9" r="6"/><circle cx="317.6" cy="795.7" r="6"/><circle cx="327.0" cy="788.2" r="6"/><circle cx="327.4" cy="775.9" r="6"/><circle cx="302.6" cy="814.0" r="6"/><circle cx="323.2" cy="797.8" r="6"/><circle cx="323.7" cy="792.1" r="6"/><circle cx="314.4" cy="796.1" r="6"/><circle cx="304.5" cy="799.7" r="6"/><circle cx="320.1" cy="796.2" r="6"/><circle cx="330.1" cy="787.0" r="6"/><circle cx="302.1" cy="814.0" r="6"/><circle cx="308.4" cy="793.7" r="6"/><circle cx="302.8" cy="804.2" r="6"/><circle cx="298.6" cy="810.7" r="6"/><circle cx="339.6" cy="782.9" r="6"/><circle cx="326.6" cy="796.7" r="6"/><circle cx="340.5" cy="778.7" r="6"/><circle cx="301.8" cy="816.5" r="6"/><circle cx="333.7" cy="782.9" r="6"/><circle cx="305.5" cy="800.8" r="6"/><circle cx="335.3" cy="777.1" r="6"/><circle cx="330.8" cy="779.1" r="6"/><circle cx="303.9" cy="805.5" r="6"/><circle cx="327.2" cy="796.8" r="6"/><circle cx="335.3" cy="789.8" r="6"/><circle cx="306.1" cy="811.5" r="6"/><circle cx="306.8" cy="815.2" r="6"/><circle cx="328.8" cy="787.0" r="6"/><circle cx="315.5" cy="801.8" r="6"/><circle cx="322.2" cy="783.0" r="6"/><circle cx="342.0" cy="778.0" r="6"/><circle cx="305.6" cy="814.5" r="6"/><circle cx="303.5" cy="801.4" r="6"/><circle cx="336.1" cy="778.4" r="6"/><circle cx="304.7" cy="803.2" r="6"/><circle cx="327.9" cy="773.9" r="6"/><circle cx="303.2" cy="811.4" r="6"/><circle cx="345.2" cy="778.9" r="6"/><circle cx="305.6" cy="798.0" r="6"/><circle cx="314.0" cy="789.9" r="6"/><circle cx="310.0" cy="811.2" r="6"/><circle cx="318.1" cy="787.7" r="6"/><circle cx="329.9" cy="785.7" r="6"/><circle cx="325.7" cy="788.8" r="6"/><circle cx="328.3" cy="794.5" r="6"/><circle cx="312.3" cy="807.4" r="6"/><circle cx="312.1" cy="788.4" r="6"/><circle cx="311.6" cy="788.5" r="6"/><circle cx="331.9" cy="789.0" r="6"/><circle cx="327.1" cy="787.9" r="6"/><circle cx="317.3" cy="796.9" r="6"/><circle cx="342.3" cy="778.1" r="6"/><circle cx="332.0" cy="779.0" r="6"/><circle cx="319.5" cy="793.1" r="6"/><circle cx="322.8" cy="785.1" r="6"/><circle cx="302.6" cy="806.5" r="6"/><circle cx="312.4" cy="806.6" r="6"/><circle cx="311.8" cy="802.4" r="6"/><circle cx="306.1" cy="802.3" r="6"/><circle cx="336.9" cy="786.9" r="6"/><circle cx="338.8" cy="787.5" r="6"/><circle cx="331.7" cy="782.5" r="6"/><circle cx="322.8" cy="799.3" r="6"/><circle cx="316.7" cy="796.6" r="6"/><circle cx="319.4" cy="791.6" r="6"/><circle cx="300.6" cy="807.1" r="6"/><circle cx="333.5" cy="794.4" r="6"/><circle cx="324.4" cy="785.8" r="6"/><circle cx="318.7" cy="791.6" r="6"/><circle cx="312.2" cy="800.9" r="6"/><circle cx="305.4" cy="804.9" r="6"/><circle cx="313.9" cy="793.8" r="6"/><circle cx="322.3" cy="780.8" r="6"/><circle cx="337.6" cy="785.1" r="6"/><circle cx="324.2" cy="795.7" r="6"/><circle cx="331.0" cy="783.6" r="6"/><circle cx="313.2" cy="805.1" r="6"/><circle cx="311.7" cy="801.7" r="6"/><circle cx="312.4" cy="805.8" r="6"/><circle cx="333.4" cy="789.7" r="6"/><circle cx="318.2" cy="795.2" r="6"/><circle cx="316.1" cy="803.0" r="6"/><circle cx="338.1" cy="782.8" r="6"/><circle cx="304.3" cy="815.9" r="6"/><circle cx="335.9" cy="781.4" r="6"/><circle cx="335.0" cy="780.7" r="6"/><circle cx="315.9" cy="789.0" r="6"/><circle cx="325.5" cy="784.0" r="6"/><circle cx="316.6" cy="796.8" r="6"/><circle cx="335.6" cy="782.5" r="6"/><circle cx="302.1" cy="814.1" r="6"/><circle cx="308.8" cy="796.4" r="6"/><circle cx="328.7" cy="780.6" r="6"/><circle cx="331.4" cy="790.4" r="6"/><circle cx="325.2" cy="796.6" r="6"/><circle cx="329.7" cy="779.1" r="6"/><circle cx="308.1" cy="802.6" r="6"/><circle cx="312.5" cy="792.1" r="6"/><circle cx="299.7" cy="815.5" r="6"/><circle cx="305.7" cy="800.5" r="6"/><circle cx="326.5" cy="784.7" r="6"/><circle cx="314.7" cy="803.2" r="6"/><circle cx="319.1" cy="783.7" r="6"/><circle cx="330.1" cy="790.9" r="6"/><circle cx="307.4" cy="809.2" r="6"/><circle cx="323.1" cy="781.3" r="6"/><circle cx="331.9" cy="783.1" r="6"/><circle cx="326.4" cy="796.6" r="6"/><circle cx="304.8" cy="815.8" r="6"/><circle cx="314.7" cy="788.4" r="6"/><circle cx="325.9" cy="797.2" r="6"/><circle cx="301.0" cy="813.8" r="6"/><circle cx="306.7" cy="803.1" r="6"/><circle cx="315.7" cy="788.7" r="6"/><circle cx="304.2" cy="816.5" r="6"/><circle cx="305.5" cy="798.5" r="6"/><circle cx="307.4" cy="808.5" r="6"/><circle cx="322.6" cy="783.7" r="6"/><circle cx="316.5" cy="802.9" r="6"/><circle cx="316.3" cy="800.2" r="6"/><circle cx="323.4" cy="800.3" r="6"/><circle cx="327.9" cy="783.7" r="6"/><circle cx="326.4" cy="799.4" r="6"/><circle cx="313.0" cy="792.7" r="6"/><circle cx="318.9" cy="788.9" r="6"/><circle cx="303.9" cy="810.0" r="6"/><circle cx="335.4" cy="786.2" r="6"/><circle cx="337.3" cy="784.3" r="6"/><circle cx="329.8" cy="792.8" r="6"/><circle cx="333.7" cy="790.7" r="6"/><circle cx="308.8" cy="805.3" r="6"/><circle cx="330.8" cy="781.6" r="6"/><circle cx="330.6" cy="794.0" r="6"/><circle cx="342.9" cy="779.2" r="6"/><circle cx="319.9" cy="793.9" r="6"/><circle cx="334.3" cy="787.7" r="6"/><circle cx="312.2" cy="804.4" r="6"/><circle cx="316.8" cy="794.1" r="6"/><circle cx="326.2" cy="796.0" r="6"/><circle cx="338.5" cy="787.1" r="6"/><circle cx="331.3" cy="794.3" r="6"/><circle cx="309.9" cy="803.7" r="6"/><circle cx="341.1" cy="794.6" r="6"/><circle cx="330.7" cy="813.4" r="6"/><circle cx="324.1" cy="815.3" r="6"/><circle cx="316.6" cy="820.0" r="6"/><circle cx="308.1" cy="828.5" r="6"/><circle cx="309.6" cy="830.9" r="6"/><circle cx="277.1" cy="813.4" r="6"/><circle cx="259.8" cy="835.6" r="6"/><circle cx="260.1" cy="834.1" r="6"/><circle cx="261.5" cy="836.5" r="6"/><circle cx="258.0" cy="838.0" r="6"/><circle cx="263.0" cy="833.0" r="6"/><circle cx="257.0" cy="840.5" r="6"/></g>
<g fill="#4daf4a" stroke="#4daf4a" fill-opacity=".4" stroke-opacity=".4" stroke-width="1.3"><circle cx="312.0" cy="805.0" r="6"/><circle cx="316.0" cy="804.5" r="6"/><circle cx="320.0" cy="804.0" r="6"/><circle cx="324.0" cy="803.6" r="6"/><circle cx="328.0" cy="804.0" r="6"/><circle cx="336.4" cy="804.9" r="6"/><circle cx="318.0" cy="805.5" r="6"/><circle cx="322.0" cy="803.0" r="6"/></g>
<g fill="#ff7f00" stroke="#ff7f00" fill-opacity=".4" stroke-opacity=".4" stroke-width="1.3"><circle cx="392.2" cy="707.1" r="6"/><circle cx="407.8" cy="700.1" r="6"/><circle cx="357.9" cy="745.8" r="6"/><circle cx="377.5" cy="734.5" r="6"/><circle cx="401.6" cy="713.8" r="6"/><circle cx="386.5" cy="731.3" r="6"/><circle cx="398.6" cy="718.8" r="6"/><circle cx="363.0" cy="732.6" r="6"/><circle cx="391.9" cy="713.9" r="6"/><circle cx="365.8" cy="754.5" r="6"/><circle cx="412.6" cy="696.4" r="6"/><circle cx="361.4" cy="738.0" r="6"/><circle cx="379.8" cy="734.3" r="6"/><circle cx="393.6" cy="709.0" r="6"/><circle cx="350.1" cy="765.2" r="6"/><circle cx="369.2" cy="730.2" r="6"/><circle cx="379.4" cy="722.4" r="6"/><circle cx="412.7" cy="696.5" r="6"/><circle cx="376.5" cy="721.5" r="6"/><circle cx="354.8" cy="746.9" r="6"/><circle cx="383.0" cy="712.9" r="6"/><circle cx="365.6" cy="737.5" r="6"/><circle cx="371.9" cy="748.9" r="6"/><circle cx="377.5" cy="727.8" r="6"/><circle cx="377.7" cy="740.6" r="6"/><circle cx="351.3" cy="754.8" r="6"/><circle cx="382.5" cy="714.2" r="6"/><circle cx="363.0" cy="760.1" r="6"/><circle cx="350.6" cy="750.9" r="6"/><circle cx="370.4" cy="749.5" r="6"/><circle cx="361.9" cy="735.6" r="6"/><circle cx="408.2" cy="704.3" r="6"/><circle cx="351.2" cy="756.6" r="6"/><circle cx="390.7" cy="718.3" r="6"/><circle cx="359.4" cy="756.8" r="6"/><circle cx="362.2" cy="747.6" r="6"/><circle cx="389.7" cy="708.9" r="6"/><circle cx="357.2" cy="764.0" r="6"/><circle cx="407.1" cy="709.4" r="6"/><circle cx="387.9" cy="735.7" r="6"/><circle cx="397.0" cy="716.7" r="6"/><circle cx="370.6" cy="742.0" r="6"/><circle cx="407.0" cy="697.7" r="6"/><circle cx="371.4" cy="749.3" r="6"/><circle cx="381.1" cy="726.1" r="6"/><circle cx="358.0" cy="758.9" r="6"/><circle cx="358.8" cy="740.4" r="6"/><circle cx="379.2" cy="743.5" r="6"/><circle cx="418.4" cy="693.3" r="6"/><circle cx="390.4" cy="732.1" r="6"/><circle cx="375.0" cy="730.8" r="6"/><circle cx="400.2" cy="700.8" r="6"/><circle cx="365.9" cy="755.3" r="6"/><circle cx="372.7" cy="746.3" r="6"/><circle cx="358.3" cy="759.7" r="6"/><circle cx="412.8" cy="694.8" r="6"/><circle cx="404.6" cy="707.5" r="6"/><circle cx="372.9" cy="728.2" r="6"/><circle cx="369.9" cy="735.5" r="6"/><circle cx="367.6" cy="731.7" r="6"/><circle cx="347.7" cy="768.8" r="6"/><circle cx="376.6" cy="727.9" r="6"/><circle cx="349.6" cy="765.4" r="6"/><circle cx="352.8" cy="751.1" r="6"/><circle cx="349.4" cy="763.6" r="6"/><circle cx="377.9" cy="744.6" r="6"/><circle cx="364.4" cy="732.3" r="6"/><circle cx="380.2" cy="721.0" r="6"/><circle cx="375.4" cy="747.6" r="6"/><circle cx="406.7" cy="704.8" r="6"/><circle cx="372.4" cy="735.8" r="6"/><circle cx="343.4" cy="763.6" r="6"/><circle cx="374.7" cy="720.1" r="6"/><circle cx="387.8" cy="728.3" r="6"/><circle cx="345.6" cy="766.1" r="6"/><circle cx="370.1" cy="741.3" r="6"/><circle cx="343.6" cy="767.4" r="6"/><circle cx="396.4" cy="721.9" r="6"/><circle cx="338.5" cy="764.0" r="6"/><circle cx="384.2" cy="732.2" r="6"/><circle cx="341.1" cy="765.5" r="6"/><circle cx="367.9" cy="750.9" r="6"/><circle cx="378.7" cy="722.2" r="6"/><circle cx="344.0" cy="768.2" r="6"/><circle cx="377.3" cy="747.2" r="6"/><circle cx="377.1" cy="718.0" r="6"/><circle cx="383.7" cy="725.6" r="6"/><circle cx="384.5" cy="732.2" r="6"/><circle cx="352.5" cy="748.4" r="6"/><circle cx="407.4" cy="709.9" r="6"/><circle cx="363.5" cy="747.8" r="6"/><circle cx="384.0" cy="720.2" r="6"/><circle cx="378.0" cy="726.4" r="6"/><circle cx="349.7" cy="753.8" r="6"/><circle cx="399.7" cy="712.3" r="6"/><circle cx="377.5" cy="746.4" r="6"/><circle cx="392.5" cy="708.8" r="6"/><circle cx="399.8" cy="700.6" r="6"/><circle cx="360.4" cy="742.1" r="6"/><circle cx="369.3" cy="745.6" r="6"/><circle cx="351.3" cy="748.2" r="6"/><circle cx="392.6" cy="707.9" r="6"/><circle cx="421.5" cy="691.2" r="6"/><circle cx="396.4" cy="708.1" r="6"/><circle cx="378.7" cy="727.5" r="6"/><circle cx="398.2" cy="715.5" r="6"/><circle cx="402.7" cy="704.6" r="6"/><circle cx="408.6" cy="705.1" r="6"/><circle cx="407.2" cy="705.8" r="6"/><circle cx="374.8" cy="747.3" r="6"/><circle cx="367.0" cy="753.7" r="6"/><circle cx="369.9" cy="730.7" r="6"/><circle cx="402.3" cy="716.3" r="6"/><circle cx="345.7" cy="755.0" r="6"/><circle cx="371.4" cy="729.6" r="6"/><circle cx="350.2" cy="749.6" r="6"/><circle cx="404.4" cy="704.8" r="6"/><circle cx="350.0" cy="765.6" r="6"/><circle cx="370.9" cy="746.1" r="6"/><circle cx="404.1" cy="705.2" r="6"/><circle cx="362.1" cy="759.4" r="6"/><circle cx="386.3" cy="729.8" r="6"/><circle cx="378.4" cy="740.4" r="6"/><circle cx="392.2" cy="705.7" r="6"/><circle cx="365.6" cy="758.1" r="6"/><circle cx="390.5" cy="718.3" r="6"/><circle cx="416.0" cy="694.1" r="6"/><circle cx="405.1" cy="709.4" r="6"/><circle cx="395.2" cy="715.2" r="6"/><circle cx="381.0" cy="734.9" r="6"/><circle cx="393.3" cy="725.5" r="6"/><circle cx="410.1" cy="694.0" r="6"/><circle cx="381.4" cy="716.8" r="6"/><circle cx="389.5" cy="722.7" r="6"/><circle cx="406.0" cy="704.5" r="6"/><circle cx="353.5" cy="764.3" r="6"/><circle cx="372.6" cy="737.8" r="6"/><circle cx="357.0" cy="744.5" r="6"/><circle cx="407.0" cy="701.5" r="6"/><circle cx="361.5" cy="747.9" r="6"/><circle cx="355.2" cy="756.1" r="6"/><circle cx="390.5" cy="715.4" r="6"/><circle cx="398.3" cy="706.0" r="6"/><circle cx="377.6" cy="722.5" r="6"/><circle cx="402.2" cy="707.8" r="6"/><circle cx="358.2" cy="741.5" r="6"/><circle cx="394.5" cy="716.6" r="6"/><circle cx="415.8" cy="694.0" r="6"/><circle cx="368.2" cy="751.2" r="6"/><circle cx="392.3" cy="710.3" r="6"/><circle cx="361.7" cy="737.4" r="6"/><circle cx="404.4" cy="698.0" r="6"/><circle cx="362.4" cy="757.3" r="6"/><circle cx="340.9" cy="766.0" r="6"/><circle cx="384.4" cy="717.9" r="6"/><circle cx="359.6" cy="749.4" r="6"/><circle cx="400.8" cy="709.2" r="6"/><circle cx="403.3" cy="711.0" r="6"/><circle cx="364.1" cy="733.0" r="6"/><circle cx="349.5" cy="754.6" r="6"/><circle cx="410.3" cy="699.3" r="6"/><circle cx="393.4" cy="716.0" r="6"/><circle cx="396.6" cy="717.2" r="6"/><circle cx="392.9" cy="714.3" r="6"/><circle cx="363.8" cy="735.6" r="6"/><circle cx="364.2" cy="757.3" r="6"/><circle cx="362.8" cy="752.6" r="6"/><circle cx="386.1" cy="712.5" r="6"/><circle cx="377.7" cy="742.9" r="6"/><circle cx="351.5" cy="760.8" r="6"/><circle cx="346.0" cy="757.2" r="6"/><circle cx="392.5" cy="718.9" r="6"/><circle cx="372.6" cy="749.6" r="6"/><circle cx="360.6" cy="749.6" r="6"/><circle cx="383.9" cy="726.8" r="6"/><circle cx="352.5" cy="753.7" r="6"/><circle cx="388.9" cy="715.2" r="6"/><circle cx="403.3" cy="701.0" r="6"/><circle cx="358.4" cy="748.1" r="6"/><circle cx="345.6" cy="760.3" r="6"/><circle cx="406.6" cy="699.6" r="6"/><circle cx="423.0" cy="690.3" r="6"/><circle cx="369.6" cy="752.0" r="6"/><circle cx="399.8" cy="716.2" r="6"/><circle cx="358.7" cy="763.8" r="6"/><circle cx="381.6" cy="730.6" r="6"/><circle cx="355.8" cy="762.9" r="6"/><circle cx="377.3" cy="741.2" r="6"/><circle cx="400.7" cy="717.5" r="6"/><circle cx="348.7" cy="752.6" r="6"/><circle cx="379.0" cy="722.2" r="6"/><circle cx="387.2" cy="729.4" r="6"/><circle cx="376.3" cy="726.3" r="6"/><circle cx="408.0" cy="695.6" r="6"/><circle cx="402.4" cy="709.6" r="6"/><circle cx="415.0" cy="692.5" r="6"/><circle cx="398.2" cy="709.3" r="6"/><circle cx="363.8" cy="750.1" r="6"/><circle cx="380.0" cy="742.1" r="6"/><circle cx="395.7" cy="712.2" r="6"/><circle cx="374.6" cy="735.1" r="6"/><circle cx="369.1" cy="734.0" r="6"/><circle cx="393.1" cy="725.4" r="6"/><circle cx="365.0" cy="758.4" r="6"/><circle cx="359.3" cy="745.3" r="6"/><circle cx="388.0" cy="726.6" r="6"/><circle cx="350.5" cy="764.1" r="6"/><circle cx="393.0" cy="722.0" r="6"/><circle cx="376.5" cy="742.2" r="6"/><circle cx="395.2" cy="719.2" r="6"/><circle cx="398.9" cy="720.5" r="6"/><circle cx="348.0" cy="760.4" r="6"/><circle cx="381.9" cy="737.7" r="6"/><circle cx="355.3" cy="743.6" r="6"/><circle cx="364.0" cy="759.9" r="6"/><circle cx="354.5" cy="754.4" r="6"/><circle cx="402.5" cy="704.6" r="6"/><circle cx="358.5" cy="754.9" r="6"/><circle cx="371.4" cy="751.4" r="6"/><circle cx="377.4" cy="724.6" r="6"/><circle cx="359.1" cy="752.1" r="6"/><circle cx="385.0" cy="727.7" r="6"/><circle cx="404.8" cy="701.1" r="6"/><circle cx="391.8" cy="718.2" r="6"/><circle cx="371.2" cy="734.2" r="6"/><circle cx="395.4" cy="722.5" r="6"/><circle cx="386.7" cy="732.0" r="6"/><circle cx="379.2" cy="716.3" r="6"/><circle cx="398.6" cy="718.3" r="6"/><circle cx="386.2" cy="721.8" r="6"/><circle cx="393.6" cy="718.5" r="6"/><circle cx="385.6" cy="738.1" r="6"/><circle cx="370.6" cy="731.6" r="6"/><circle cx="340.1" cy="762.2" r="6"/><circle cx="407.7" cy="706.3" r="6"/><circle cx="354.4" cy="753.3" r="6"/><circle cx="389.2" cy="707.5" r="6"/><circle cx="391.5" cy="728.6" r="6"/><circle cx="376.2" cy="749.4" r="6"/><circle cx="365.4" cy="757.4" r="6"/><circle cx="372.7" cy="729.6" r="6"/><circle cx="361.7" cy="743.6" r="6"/><circle cx="356.5" cy="758.9" r="6"/><circle cx="408.1" cy="708.5" r="6"/><circle cx="360.9" cy="748.9" r="6"/><circle cx="373.4" cy="723.8" r="6"/><circle cx="347.4" cy="753.2" r="6"/><circle cx="349.2" cy="751.3" r="6"/><circle cx="361.7" cy="749.1" r="6"/><circle cx="361.3" cy="753.9" r="6"/><circle cx="339.9" cy="765.7" r="6"/><circle cx="351.8" cy="761.0" r="6"/><circle cx="382.7" cy="715.9" r="6"/><circle cx="344.4" cy="768.4" r="6"/><circle cx="358.7" cy="744.4" r="6"/><circle cx="421.6" cy="691.7" r="6"/><circle cx="398.4" cy="704.8" r="6"/><circle cx="377.4" cy="719.5" r="6"/><circle cx="383.2" cy="730.1" r="6"/><circle cx="368.1" cy="755.4" r="6"/><circle cx="370.6" cy="752.9" r="6"/><circle cx="346.8" cy="760.6" r="6"/><circle cx="367.9" cy="741.3" r="6"/><circle cx="385.4" cy="718.6" r="6"/><circle cx="359.0" cy="751.5" r="6"/><circle cx="357.2" cy="757.9" r="6"/><circle cx="382.2" cy="715.4" r="6"/><circle cx="352.0" cy="765.5" r="6"/><circle cx="379.9" cy="743.3" r="6"/><circle cx="359.4" cy="754.2" r="6"/><circle cx="341.0" cy="765.6" r="6"/><circle cx="372.7" cy="742.1" r="6"/><circle cx="364.8" cy="741.2" r="6"/><circle cx="408.4" cy="699.7" r="6"/><circle cx="377.0" cy="732.8" r="6"/><circle cx="407.5" cy="707.3" r="6"/><circle cx="398.8" cy="703.7" r="6"/><circle cx="358.6" cy="743.9" r="6"/><circle cx="393.2" cy="712.8" r="6"/><circle cx="351.6" cy="750.0" r="6"/><circle cx="385.0" cy="723.3" r="6"/><circle cx="388.2" cy="735.6" r="6"/><circle cx="380.3" cy="719.9" r="6"/><circle cx="362.5" cy="734.2" r="6"/><circle cx="374.9" cy="743.4" r="6"/><circle cx="367.9" cy="726.4" r="6"/><circle cx="348.4" cy="754.3" r="6"/><circle cx="385.7" cy="724.5" r="6"/><circle cx="405.6" cy="704.0" r="6"/><circle cx="414.0" cy="696.7" r="6"/><circle cx="390.0" cy="732.0" r="6"/><circle cx="387.4" cy="737.0" r="6"/><circle cx="383.2" cy="742.0" r="6"/><circle cx="376.4" cy="730.9" r="6"/><circle cx="402.4" cy="702.6" r="6"/><circle cx="340.0" cy="763.1" r="6"/><circle cx="393.1" cy="708.4" r="6"/><circle cx="368.1" cy="734.1" r="6"/><circle cx="417.1" cy="692.5" r="6"/><circle cx="391.0" cy="713.1" r="6"/><circle cx="416.0" cy="693.8" r="6"/><circle cx="375.4" cy="719.5" r="6"/><circle cx="358.3" cy="764.6" r="6"/><circle cx="391.7" cy="710.7" r="6"/><circle cx="414.2" cy="701.0" r="6"/><circle cx="356.7" cy="744.5" r="6"/><circle cx="375.9" cy="721.1" r="6"/><circle cx="407.3" cy="696.6" r="6"/><circle cx="377.0" cy="732.2" r="6"/><circle cx="392.9" cy="710.9" r="6"/><circle cx="408.0" cy="698.9" r="6"/><circle cx="393.5" cy="705.0" r="6"/><circle cx="364.5" cy="739.0" r="6"/><circle cx="422.2" cy="691.5" r="6"/><circle cx="363.0" cy="747.1" r="6"/><circle cx="391.0" cy="716.1" r="6"/><circle cx="364.0" cy="740.6" r="6"/><circle cx="380.7" cy="727.6" r="6"/><circle cx="374.9" cy="728.4" r="6"/><circle cx="360.2" cy="741.5" r="6"/><circle cx="409.6" cy="696.3" r="6"/><circle cx="411.3" cy="696.4" r="6"/><circle cx="409.3" cy="708.2" r="6"/><circle cx="384.6" cy="719.8" r="6"/><circle cx="354.3" cy="747.3" r="6"/><circle cx="392.8" cy="723.6" r="6"/><circle cx="384.3" cy="738.7" r="6"/><circle cx="366.3" cy="754.1" r="6"/><circle cx="400.5" cy="719.8" r="6"/><circle cx="374.0" cy="732.1" r="6"/><circle cx="355.1" cy="745.1" r="6"/><circle cx="386.8" cy="720.7" r="6"/><circle cx="394.6" cy="709.7" r="6"/><circle cx="360.3" cy="747.9" r="6"/><circle cx="361.5" cy="739.7" r="6"/><circle cx="406.0" cy="703.2" r="6"/><circle cx="414.5" cy="698.1" r="6"/><circle cx="381.3" cy="717.6" r="6"/><circle cx="357.8" cy="742.2" r="6"/><circle cx="382.2" cy="729.5" r="6"/><circle cx="412.7" cy="696.6" r="6"/><circle cx="383.3" cy="718.2" r="6"/><circle cx="392.1" cy="724.0" r="6"/><circle cx="364.8" cy="735.7" r="6"/><circle cx="368.3" cy="751.9" r="6"/><circle cx="386.2" cy="715.9" r="6"/><circle cx="342.2" cy="760.6" r="6"/><circle cx="380.6" cy="741.6" r="6"/><circle cx="406.0" cy="707.5" r="6"/><circle cx="372.5" cy="730.3" r="6"/><circle cx="358.0" cy="764.8" r="6"/><circle cx="415.1" cy="694.0" r="6"/><circle cx="400.3" cy="711.8" r="6"/><circle cx="344.9" cy="757.6" r="6"/><circle cx="364.9" cy="748.5" r="6"/><circle cx="342.3" cy="762.8" r="6"/><circle cx="363.4" cy="754.3" r="6"/><circle cx="375.5" cy="720.9" r="6"/><circle cx="380.9" cy="714.4" r="6"/><circle cx="371.2" cy="726.6" r="6"/><circle cx="400.1" cy="718.9" r="6"/><circle cx="398.4" cy="719.1" r="6"/><circle cx="375.9" cy="726.8" r="6"/><circle cx="366.2" cy="750.0" r="6"/><circle cx="391.0" cy="710.7" r="6"/><circle cx="377.6" cy="729.3" r="6"/><circle cx="392.6" cy="728.9" r="6"/><circle cx="387.3" cy="718.2" r="6"/><circle cx="381.1" cy="716.8" r="6"/><circle cx="348.4" cy="754.9" r="6"/><circle cx="347.4" cy="761.2" r="6"/><circle cx="374.4" cy="745.4" r="6"/><circle cx="376.5" cy="737.1" r="6"/><circle cx="349.6" cy="754.6" r="6"/><circle cx="410.5" cy="700.3" r="6"/><circle cx="379.8" cy="738.0" r="6"/><circle cx="418.1" cy="692.9" r="6"/><circle cx="384.1" cy="728.5" r="6"/><circle cx="389.2" cy="728.4" r="6"/><circle cx="375.2" cy="729.2" r="6"/><circle cx="369.6" cy="728.7" r="6"/><circle cx="413.9" cy="695.6" r="6"/><circle cx="369.1" cy="749.9" r="6"/><circle cx="372.3" cy="750.2" r="6"/><circle cx="346.9" cy="764.0" r="6"/><circle cx="379.3" cy="729.2" r="6"/><circle cx="411.1" cy="702.9" r="6"/><circle cx="351.2" cy="750.0" r="6"/><circle cx="410.6" cy="704.5" r="6"/><circle cx="349.5" cy="762.8" r="6"/><circle cx="391.0" cy="722.4" r="6"/><circle cx="375.5" cy="729.2" r="6"/><circle cx="364.7" cy="742.0" r="6"/><circle cx="356.8" cy="760.4" r="6"/><circle cx="403.4" cy="715.0" r="6"/><circle cx="380.6" cy="731.0" r="6"/><circle cx="370.5" cy="751.4" r="6"/><circle cx="380.9" cy="736.3" r="6"/><circle cx="366.7" cy="751.5" r="6"/><circle cx="364.2" cy="748.6" r="6"/><circle cx="410.0" cy="701.6" r="6"/><circle cx="368.6" cy="739.7" r="6"/><circle cx="354.7" cy="754.1" r="6"/><circle cx="384.9" cy="724.5" r="6"/><circle cx="362.2" cy="750.4" r="6"/><circle cx="357.4" cy="745.6" r="6"/><circle cx="362.2" cy="754.3" r="6"/><circle cx="414.4" cy="698.9" r="6"/><circle cx="393.9" cy="713.1" r="6"/><circle cx="373.5" cy="724.6" r="6"/><circle cx="412.7" cy="695.4" r="6"/><circle cx="394.9" cy="708.7" r="6"/><circle cx="398.0" cy="717.9" r="6"/><circle cx="384.2" cy="722.2" r="6"/><circle cx="395.3" cy="718.3" r="6"/><circle cx="357.6" cy="750.6" r="6"/><circle cx="374.7" cy="748.2" r="6"/><circle cx="381.1" cy="734.8" r="6"/><circle cx="357.8" cy="756.1" r="6"/><circle cx="391.8" cy="719.4" r="6"/><circle cx="342.1" cy="767.9" r="6"/><circle cx="365.1" cy="759.6" r="6"/><circle cx="406.0" cy="703.4" r="6"/><circle cx="395.1" cy="716.7" r="6"/><circle cx="345.3" cy="767.2" r="6"/><circle cx="353.9" cy="763.6" r="6"/><circle cx="382.7" cy="717.6" r="6"/><circle cx="371.3" cy="734.8" r="6"/><circle cx="372.2" cy="749.0" r="6"/><circle cx="395.8" cy="724.2" r="6"/><circle cx="401.0" cy="713.2" r="6"/><circle cx="348.8" cy="768.2" r="6"/><circle cx="388.9" cy="708.2" r="6"/><circle cx="382.4" cy="718.3" r="6"/><circle cx="397.5" cy="718.4" r="6"/><circle cx="384.6" cy="732.2" r="6"/><circle cx="418.2" cy="695.6" r="6"/><circle cx="365.8" cy="750.5" r="6"/><circle cx="378.9" cy="743.9" r="6"/><circle cx="350.1" cy="749.8" r="6"/><circle cx="395.7" cy="712.7" r="6"/><circle cx="357.5" cy="740.5" r="6"/><circle cx="371.4" cy="741.2" r="6"/><circle cx="383.3" cy="727.8" r="6"/><circle cx="403.6" cy="714.5" r="6"/><circle cx="407.0" cy="708.9" r="6"/><circle cx="394.3" cy="707.3" r="6"/><circle cx="399.9" cy="704.6" r="6"/><circle cx="363.6" cy="733.1" r="6"/><circle cx="362.7" cy="759.5" r="6"/><circle cx="360.2" cy="758.7" r="6"/><circle cx="375.9" cy="719.0" r="6"/><circle cx="389.4" cy="731.7" r="6"/><circle cx="406.6" cy="701.5" r="6"/><circle cx="392.1" cy="722.4" r="6"/><circle cx="408.5" cy="704.3" r="6"/><circle cx="388.1" cy="722.9" r="6"/><circle cx="387.3" cy="709.8" r="6"/><circle cx="377.7" cy="728.0" r="6"/><circle cx="403.3" cy="697.6" r="6"/><circle cx="377.3" cy="740.2" r="6"/><circle cx="342.3" cy="760.9" r="6"/><circle cx="356.8" cy="764.2" r="6"/><circle cx="394.6" cy="714.2" r="6"/><circle cx="419.3" cy="694.9" r="6"/><circle cx="357.0" cy="751.4" r="6"/><circle cx="366.9" cy="747.6" r="6"/><circle cx="395.6" cy="704.3" r="6"/><circle cx="398.7" cy="717.7" r="6"/><circle cx="357.0" cy="749.6" r="6"/><circle cx="369.5" cy="726.9" r="6"/><circle cx="364.5" cy="741.5" r="6"/><circle cx="406.0" cy="700.1" r="6"/><circle cx="384.4" cy="724.3" r="6"/><circle cx="388.5" cy="713.5" r="6"/><circle cx="365.3" cy="751.7" r="6"/><circle cx="388.8" cy="730.7" r="6"/><circle cx="363.4" cy="760.5" r="6"/><circle cx="415.7" cy="695.3" r="6"/><circle cx="387.0" cy="719.9" r="6"/><circle cx="405.1" cy="743.8" r="6"/><circle cx="248.5" cy="854.5" r="6"/><circle cx="246.0" cy="857.0" r="6"/><circle cx="251.0" cy="852.0" r="6"/><circle cx="279.5" cy="836.6" r="6"/><circle cx="274.0" cy="831.0" r="6"/><circle cx="272.0" cy="834.0" r="6"/><circle cx="276.0" cy="829.0" r="6"/><circle cx="281.0" cy="834.0" r="6"/></g>
<g fill="#377eb8" stroke="#377eb8" fill-opacity=".4" stroke-opacity=".4" stroke-width="1.3"><circle cx="412.0" cy="700.0" r="6"/><circle cx="418.0" cy="696.0" r="6"/><circle cx="409.0" cy="704.0" r="6"/><circle cx="415.0" cy="692.0" r="6"/><circle cx="421.0" cy="690.0" r="6"/></g>
<g fill="#ff7f00" stroke="#ff7f00" fill-opacity=".4" stroke-opacity=".4" stroke-width="1.3"><circle cx="414.0" cy="698.0" r="6"/><circle cx="419.0" cy="693.0" r="6"/><circle cx="410.0" cy="701.0" r="6"/></g>
<g fill="#377eb8" stroke="#377eb8" fill-opacity=".4" stroke-opacity=".4" stroke-width="1.3"><circle cx="288.0" cy="818.0" r="6"/><circle cx="290.0" cy="816.0" r="6"/><circle cx="286.5" cy="820.0" r="6"/><circle cx="291.0" cy="819.0" r="6"/><circle cx="284.0" cy="823.0" r="6"/></g>
<g fill="#4daf4a" stroke="#4daf4a" fill-opacity=".4" stroke-opacity=".4" stroke-width="1.3"><circle cx="248.8" cy="854.8" r="6"/><circle cx="274.5" cy="829.5" r="6"/></g>
<g fill="#e41a1c" stroke="#e41a1c" fill-opacity=".4" stroke-opacity=".4" stroke-width="1.3"><circle cx="995.7" cy="119.0" r="6"/><circle cx="880.3" cy="238.8" r="6"/><circle cx="959.4" cy="161.5" r="6"/><circle cx="980.4" cy="128.9" r="6"/><circle cx="940.1" cy="190.7" r="6"/><circle cx="971.2" cy="136.7" r="6"/><circle cx="961.5" cy="152.5" r="6"/><circle cx="954.7" cy="173.9" r="6"/><circle cx="943.9" cy="175.7" r="6"/><circle cx="966.0" cy="143.2" r="6"/><circle cx="866.3" cy="258.8" r="6"/><circle cx="945.7" cy="181.4" r="6"/><circle cx="990.6" cy="133.1" r="6"/><circle cx="962.0" cy="165.3" r="6"/><circle cx="933.5" cy="176.1" r="6"/><circle cx="989.8" cy="142.9" r="6"/><circle cx="940.6" cy="192.8" r="6"/><circle cx="1002.9" cy="113.6" r="6"/><circle cx="928.5" cy="186.8" r="6"/><circle cx="922.1" cy="197.1" r="6"/><circle cx="997.1" cy="133.9" r="6"/><circle cx="993.8" cy="140.9" r="6"/><circle cx="1004.2" cy="113.3" r="6"/><circle cx="880.4" cy="246.7" r="6"/><circle cx="878.2" cy="248.7" r="6"/><circle cx="939.4" cy="172.3" r="6"/><circle cx="885.0" cy="231.2" r="6"/><circle cx="942.5" cy="178.9" r="6"/><circle cx="951.9" cy="185.1" r="6"/><circle cx="978.8" cy="160.6" r="6"/><circle cx="952.0" cy="162.2" r="6"/><circle cx="943.2" cy="188.8" r="6"/><circle cx="997.2" cy="125.7" r="6"/><circle cx="880.0" cy="247.0" r="6"/><circle cx="964.6" cy="173.8" r="6"/><circle cx="887.1" cy="233.3" r="6"/><circle cx="996.8" cy="128.0" r="6"/><circle cx="987.5" cy="136.7" r="6"/><circle cx="905.0" cy="205.0" r="6"/><circle cx="921.1" cy="204.8" r="6"/><circle cx="956.6" cy="175.1" r="6"/><circle cx="955.0" cy="158.7" r="6"/><circle cx="880.1" cy="246.9" r="6"/><circle cx="943.5" cy="190.6" r="6"/><circle cx="975.2" cy="144.5" r="6"/><circle cx="1005.1" cy="119.6" r="6"/><circle cx="955.8" cy="158.6" r="6"/><circle cx="990.4" cy="142.9" r="6"/><circle cx="881.3" cy="247.1" r="6"/><circle cx="933.6" cy="184.8" r="6"/><circle cx="930.5" cy="200.5" r="6"/><circle cx="1004.6" cy="119.4" r="6"/><circle cx="950.6" cy="185.3" r="6"/><circle cx="900.5" cy="213.2" r="6"/><circle cx="946.9" cy="177.3" r="6"/><circle cx="933.2" cy="184.1" r="6"/><circle cx="967.2" cy="147.3" r="6"/><circle cx="991.9" cy="120.7" r="6"/><circle cx="911.8" cy="200.5" r="6"/><circle cx="963.5" cy="168.7" r="6"/><circle cx="1002.1" cy="120.4" r="6"/><circle cx="981.0" cy="146.7" r="6"/><circle cx="904.8" cy="213.7" r="6"/><circle cx="956.5" cy="165.5" r="6"/><circle cx="896.2" cy="220.3" r="6"/><circle cx="1004.2" cy="122.8" r="6"/><circle cx="946.9" cy="166.9" r="6"/><circle cx="991.2" cy="127.8" r="6"/><circle cx="940.3" cy="175.9" r="6"/><circle cx="909.9" cy="202.6" r="6"/><circle cx="986.2" cy="146.7" r="6"/><circle cx="996.5" cy="118.8" r="6"/><circle cx="915.3" cy="199.0" r="6"/><circle cx="985.0" cy="124.2" r="6"/><circle cx="954.0" cy="178.6" r="6"/><circle cx="967.5" cy="151.9" r="6"/><circle cx="872.1" cy="251.2" r="6"/><circle cx="918.3" cy="209.4" r="6"/><circle cx="924.5" cy="192.6" r="6"/><circle cx="967.1" cy="159.0" r="6"/><circle cx="914.9" cy="211.9" r="6"/><circle cx="990.3" cy="145.5" r="6"/><circle cx="952.7" cy="160.8" r="6"/><circle cx="881.6" cy="236.6" r="6"/><circle cx="964.3" cy="150.8" r="6"/><circle cx="992.9" cy="138.6" r="6"/><circle cx="999.0" cy="118.5" r="6"/><circle cx="991.0" cy="129.3" r="6"/><circle cx="974.2" cy="165.0" r="6"/><circle cx="937.1" cy="193.2" r="6"/><circle cx="934.5" cy="184.3" r="6"/><circle cx="947.8" cy="183.2" r="6"/><circle cx="912.9" cy="200.9" r="6"/><circle cx="985.0" cy="137.4" r="6"/><circle cx="1013.3" cy="116.2" r="6"/><circle cx="998.8" cy="134.5" r="6"/><circle cx="947.8" cy="181.1" r="6"/><circle cx="1002.4" cy="122.5" r="6"/><circle cx="916.7" cy="209.7" r="6"/><circle cx="979.9" cy="134.1" r="6"/><circle cx="879.7" cy="238.0" r="6"/><circle cx="879.4" cy="233.6" r="6"/><circle cx="978.6" cy="147.1" r="6"/><circle cx="890.3" cy="225.2" r="6"/><circle cx="988.3" cy="136.5" r="6"/><circle cx="959.8" cy="178.9" r="6"/><circle cx="953.9" cy="181.1" r="6"/><circle cx="996.9" cy="117.8" r="6"/><circle cx="929.6" cy="182.1" r="6"/><circle cx="955.0" cy="167.1" r="6"/><circle cx="991.8" cy="121.5" r="6"/><circle cx="985.0" cy="142.8" r="6"/><circle cx="970.8" cy="167.2" r="6"/><circle cx="959.2" cy="152.4" r="6"/><circle cx="899.4" cy="225.2" r="6"/><circle cx="886.8" cy="228.3" r="6"/><circle cx="980.7" cy="134.2" r="6"/><circle cx="868.9" cy="253.6" r="6"/><circle cx="928.7" cy="187.9" r="6"/><circle cx="893.9" cy="218.1" r="6"/><circle cx="875.4" cy="243.8" r="6"/><circle cx="955.8" cy="178.5" r="6"/><circle cx="918.0" cy="201.3" r="6"/><circle cx="1002.1" cy="131.6" r="6"/><circle cx="998.2" cy="121.6" r="6"/><circle cx="939.4" cy="192.5" r="6"/><circle cx="888.7" cy="224.1" r="6"/><circle cx="950.0" cy="157.3" r="6"/><circle cx="954.5" cy="170.0" r="6"/><circle cx="914.6" cy="209.3" r="6"/><circle cx="976.8" cy="152.8" r="6"/><circle cx="995.7" cy="122.1" r="6"/><circle cx="892.3" cy="226.3" r="6"/><circle cx="996.6" cy="129.2" r="6"/><circle cx="972.5" cy="136.8" r="6"/><circle cx="966.0" cy="172.4" r="6"/><circle cx="904.7" cy="216.7" r="6"/><circle cx="991.0" cy="124.2" r="6"/><circle cx="968.3" cy="169.6" r="6"/><circle cx="970.7" cy="139.3" r="6"/><circle cx="889.9" cy="228.1" r="6"/><circle cx="959.7" cy="152.5" r="6"/><circle cx="892.4" cy="237.0" r="6"/><circle cx="912.2" cy="206.8" r="6"/><circle cx="964.1" cy="166.7" r="6"/><circle cx="905.6" cy="213.4" r="6"/><circle cx="931.6" cy="193.9" r="6"/><circle cx="942.5" cy="176.1" r="6"/><circle cx="1006.3" cy="115.9" r="6"/><circle cx="974.5" cy="137.5" r="6"/><circle cx="911.4" cy="212.7" r="6"/><circle cx="903.4" cy="220.1" r="6"/><circle cx="992.4" cy="142.9" r="6"/><circle cx="891.1" cy="224.8" r="6"/><circle cx="881.1" cy="242.3" r="6"/><circle cx="929.6" cy="198.5" r="6"/><circle cx="988.0" cy="136.8" r="6"/><circle cx="950.9" cy="171.0" r="6"/><circle cx="919.8" cy="195.8" r="6"/><circle cx="926.6" cy="191.5" r="6"/><circle cx="903.2" cy="217.0" r="6"/><circle cx="955.9" cy="173.8" r="6"/><circle cx="964.4" cy="141.5" r="6"/><circle cx="905.0" cy="209.5" r="6"/><circle cx="932.5" cy="182.4" r="6"/><circle cx="926.0" cy="201.7" r="6"/><circle cx="917.6" cy="208.4" r="6"/><circle cx="979.6" cy="145.1" r="6"/><circle cx="965.0" cy="169.7" r="6"/><circle cx="963.1" cy="163.5" r="6"/><circle cx="916.1" cy="210.3" r="6"/><circle cx="976.6" cy="156.4" r="6"/><circle cx="970.0" cy="136.4" r="6"/><circle cx="909.1" cy="203.0" r="6"/><circle cx="965.3" cy="164.5" r="6"/><circle cx="870.4" cy="252.6" r="6"/><circle cx="939.8" cy="166.7" r="6"/><circle cx="890.8" cy="226.2" r="6"/><circle cx="961.3" cy="147.6" r="6"/><circle cx="1007.3" cy="123.0" r="6"/><circle cx="981.9" cy="151.1" r="6"/><circle cx="900.1" cy="214.5" r="6"/><circle cx="953.7" cy="174.9" r="6"/><circle cx="928.8" cy="194.2" r="6"/><circle cx="972.5" cy="150.8" r="6"/><circle cx="943.4" cy="176.9" r="6"/><circle cx="910.2" cy="211.8" r="6"/><circle cx="891.7" cy="220.4" r="6"/><circle cx="976.2" cy="158.5" r="6"/><circle cx="972.3" cy="139.8" r="6"/><circle cx="929.1" cy="191.9" r="6"/><circle cx="988.3" cy="123.3" r="6"/><circle cx="970.4" cy="151.8" r="6"/><circle cx="906.9" cy="206.7" r="6"/><circle cx="943.5" cy="176.5" r="6"/><circle cx="974.6" cy="162.9" r="6"/><circle cx="948.4" cy="171.5" r="6"/><circle cx="899.3" cy="230.0" r="6"/><circle cx="909.1" cy="212.7" r="6"/><circle cx="870.3" cy="250.5" r="6"/><circle cx="1007.0" cy="120.3" r="6"/><circle cx="867.5" cy="255.7" r="6"/><circle cx="970.1" cy="147.2" r="6"/><circle cx="920.3" cy="196.6" r="6"/><circle cx="965.0" cy="157.5" r="6"/><circle cx="951.2" cy="187.2" r="6"/><circle cx="1005.9" cy="115.5" r="6"/><circle cx="987.6" cy="139.2" r="6"/><circle cx="867.8" cy="252.4" r="6"/><circle cx="993.2" cy="119.8" r="6"/><circle cx="999.5" cy="131.8" r="6"/><circle cx="875.3" cy="250.6" r="6"/><circle cx="891.2" cy="229.2" r="6"/><circle cx="873.4" cy="245.2" r="6"/><circle cx="941.5" cy="167.4" r="6"/><circle cx="912.5" cy="197.8" r="6"/><circle cx="963.7" cy="146.6" r="6"/><circle cx="989.2" cy="138.9" r="6"/><circle cx="882.6" cy="246.2" r="6"/><circle cx="873.9" cy="242.4" r="6"/><circle cx="884.7" cy="241.9" r="6"/><circle cx="926.3" cy="203.1" r="6"/><circle cx="979.0" cy="138.6" r="6"/><circle cx="991.1" cy="131.9" r="6"/><circle cx="908.7" cy="209.7" r="6"/><circle cx="941.2" cy="184.4" r="6"/><circle cx="997.1" cy="131.9" r="6"/><circle cx="884.0" cy="239.6" r="6"/><circle cx="996.5" cy="122.1" r="6"/><circle cx="919.6" cy="189.4" r="6"/><circle cx="944.5" cy="160.5" r="6"/><circle cx="959.5" cy="177.7" r="6"/><circle cx="983.7" cy="155.6" r="6"/><circle cx="975.2" cy="161.3" r="6"/><circle cx="976.4" cy="150.8" r="6"/><circle cx="951.7" cy="170.6" r="6"/><circle cx="997.2" cy="125.6" r="6"/><circle cx="931.5" cy="197.3" r="6"/><circle cx="949.3" cy="158.6" r="6"/><circle cx="958.6" cy="170.3" r="6"/><circle cx="975.8" cy="143.7" r="6"/><circle cx="904.9" cy="223.1" r="6"/><circle cx="959.2" cy="173.4" r="6"/><circle cx="977.4" cy="144.3" r="6"/><circle cx="1001.1" cy="130.6" r="6"/><circle cx="975.7" cy="155.8" r="6"/><circle cx="969.1" cy="161.0" r="6"/><circle cx="910.8" cy="200.6" r="6"/><circle cx="911.4" cy="210.0" r="6"/><circle cx="962.7" cy="145.8" r="6"/><circle cx="892.6" cy="228.4" r="6"/><circle cx="887.1" cy="228.4" r="6"/><circle cx="986.1" cy="127.0" r="6"/><circle cx="963.8" cy="143.6" r="6"/><circle cx="970.3" cy="137.1" r="6"/><circle cx="965.3" cy="167.2" r="6"/><circle cx="943.1" cy="189.5" r="6"/><circle cx="919.4" cy="202.4" r="6"/><circle cx="972.7" cy="161.2" r="6"/><circle cx="980.2" cy="129.4" r="6"/><circle cx="908.0" cy="219.1" r="6"/><circle cx="964.9" cy="173.7" r="6"/><circle cx="951.0" cy="180.0" r="6"/><circle cx="968.7" cy="164.6" r="6"/><circle cx="921.0" cy="198.0" r="6"/><circle cx="882.6" cy="235.4" r="6"/><circle cx="915.7" cy="199.4" r="6"/><circle cx="900.2" cy="211.3" r="6"/><circle cx="915.2" cy="202.6" r="6"/><circle cx="986.8" cy="123.4" r="6"/><circle cx="919.4" cy="195.9" r="6"/><circle cx="932.8" cy="175.7" r="6"/><circle cx="992.2" cy="129.3" r="6"/><circle cx="965.8" cy="165.4" r="6"/><circle cx="884.2" cy="232.6" r="6"/><circle cx="936.7" cy="168.3" r="6"/><circle cx="949.5" cy="175.5" r="6"/><circle cx="883.6" cy="244.4" r="6"/><circle cx="986.5" cy="153.0" r="6"/><circle cx="866.5" cy="252.7" r="6"/><circle cx="976.5" cy="134.9" r="6"/><circle cx="911.3" cy="200.5" r="6"/><circle cx="953.2" cy="178.0" r="6"/><circle cx="992.6" cy="124.6" r="6"/><circle cx="948.2" cy="184.0" r="6"/><circle cx="948.5" cy="169.5" r="6"/><circle cx="1007.4" cy="112.9" r="6"/><circle cx="924.1" cy="198.5" r="6"/><circle cx="904.3" cy="216.9" r="6"/><circle cx="958.5" cy="160.5" r="6"/><circle cx="966.6" cy="139.3" r="6"/><circle cx="917.4" cy="199.2" r="6"/><circle cx="877.5" cy="235.1" r="6"/><circle cx="884.0" cy="241.5" r="6"/><circle cx="940.4" cy="190.7" r="6"/><circle cx="970.6" cy="165.3" r="6"/><circle cx="963.1" cy="162.4" r="6"/><circle cx="980.5" cy="148.2" r="6"/><circle cx="969.6" cy="150.2" r="6"/><circle cx="949.3" cy="168.6" r="6"/><circle cx="873.0" cy="242.6" r="6"/><circle cx="927.4" cy="187.1" r="6"/><circle cx="882.3" cy="233.2" r="6"/><circle cx="953.0" cy="160.1" r="6"/><circle cx="948.7" cy="177.0" r="6"/><circle cx="955.2" cy="171.8" r="6"/><circle cx="963.6" cy="160.0" r="6"/><circle cx="974.8" cy="140.9" r="6"/><circle cx="923.1" cy="193.5" r="6"/><circle cx="954.0" cy="152.5" r="6"/><circle cx="955.5" cy="166.1" r="6"/><circle cx="943.3" cy="163.9" r="6"/><circle cx="973.9" cy="158.8" r="6"/><circle cx="959.0" cy="155.1" r="6"/><circle cx="979.3" cy="145.9" r="6"/><circle cx="907.9" cy="208.2" r="6"/><circle cx="986.7" cy="127.7" r="6"/><circle cx="929.7" cy="198.2" r="6"/><circle cx="988.0" cy="137.9" r="6"/><circle cx="951.9" cy="183.4" r="6"/><circle cx="913.4" cy="202.4" r="6"/><circle cx="938.2" cy="178.3" r="6"/><circle cx="955.1" cy="165.6" r="6"/><circle cx="892.6" cy="229.2" r="6"/><circle cx="894.1" cy="235.4" r="6"/><circle cx="922.9" cy="191.5" r="6"/><circle cx="940.3" cy="192.0" r="6"/><circle cx="919.5" cy="205.8" r="6"/><circle cx="876.7" cy="238.7" r="6"/><circle cx="932.0" cy="199.3" r="6"/><circle cx="996.6" cy="125.8" r="6"/><circle cx="992.3" cy="120.5" r="6"/><circle cx="961.6" cy="146.9" r="6"/><circle cx="950.8" cy="172.3" r="6"/><circle cx="920.5" cy="205.7" r="6"/><circle cx="927.4" cy="181.3" r="6"/><circle cx="923.8" cy="187.8" r="6"/><circle cx="898.4" cy="216.1" r="6"/><circle cx="1005.4" cy="122.5" r="6"/><circle cx="946.9" cy="187.0" r="6"/><circle cx="929.1" cy="185.1" r="6"/><circle cx="958.8" cy="161.0" r="6"/><circle cx="923.1" cy="196.9" r="6"/><circle cx="871.4" cy="245.0" r="6"/><circle cx="955.0" cy="168.3" r="6"/><circle cx="974.0" cy="144.5" r="6"/><circle cx="959.1" cy="169.9" r="6"/><circle cx="984.0" cy="135.8" r="6"/><circle cx="943.2" cy="189.9" r="6"/><circle cx="949.7" cy="163.7" r="6"/><circle cx="879.9" cy="238.7" r="6"/><circle cx="871.0" cy="246.3" r="6"/><circle cx="955.5" cy="174.9" r="6"/><circle cx="957.5" cy="153.7" r="6"/><circle cx="968.3" cy="149.2" r="6"/><circle cx="982.7" cy="144.6" r="6"/><circle cx="867.4" cy="249.0" r="6"/><circle cx="895.1" cy="219.8" r="6"/><circle cx="1004.4" cy="117.6" r="6"/><circle cx="948.0" cy="170.1" r="6"/><circle cx="936.6" cy="193.0" r="6"/><circle cx="940.6" cy="181.8" r="6"/><circle cx="939.5" cy="179.5" r="6"/><circle cx="1002.9" cy="118.3" r="6"/><circle cx="909.8" cy="200.0" r="6"/><circle cx="884.4" cy="230.9" r="6"/><circle cx="936.8" cy="176.8" r="6"/><circle cx="986.2" cy="139.7" r="6"/><circle cx="984.5" cy="154.0" r="6"/><circle cx="972.7" cy="156.4" r="6"/><circle cx="963.0" cy="145.4" r="6"/><circle cx="989.3" cy="145.0" r="6"/><circle cx="928.1" cy="194.1" r="6"/><circle cx="971.3" cy="144.1" r="6"/><circle cx="958.6" cy="173.1" r="6"/><circle cx="963.0" cy="165.5" r="6"/><circle cx="975.9" cy="135.7" r="6"/><circle cx="1004.0" cy="126.9" r="6"/><circle cx="877.9" cy="248.2" r="6"/><circle cx="913.7" cy="206.5" r="6"/><circle cx="894.7" cy="220.3" r="6"/><circle cx="892.2" cy="227.5" r="6"/><circle cx="884.6" cy="242.4" r="6"/><circle cx="925.9" cy="187.9" r="6"/><circle cx="922.9" cy="193.3" r="6"/><circle cx="963.9" cy="164.3" r="6"/><circle cx="940.9" cy="190.2" r="6"/><circle cx="975.9" cy="152.5" r="6"/><circle cx="970.3" cy="168.7" r="6"/><circle cx="984.6" cy="138.7" r="6"/><circle cx="896.9" cy="220.8" r="6"/><circle cx="909.0" cy="217.1" r="6"/><circle cx="910.9" cy="210.1" r="6"/><circle cx="970.1" cy="159.2" r="6"/><circle cx="995.6" cy="130.7" r="6"/><circle cx="927.9" cy="190.8" r="6"/><circle cx="909.9" cy="217.5" r="6"/><circle cx="941.3" cy="168.4" r="6"/><circle cx="949.2" cy="185.6" r="6"/><circle cx="893.7" cy="232.9" r="6"/><circle cx="897.7" cy="229.9" r="6"/><circle cx="954.4" cy="186.2" r="6"/><circle cx="946.9" cy="175.7" r="6"/><circle cx="933.6" cy="196.9" r="6"/><circle cx="998.5" cy="136.4" r="6"/><circle cx="960.0" cy="150.9" r="6"/><circle cx="909.5" cy="202.8" r="6"/><circle cx="928.9" cy="180.6" r="6"/><circle cx="968.1" cy="165.4" r="6"/><circle cx="920.8" cy="186.6" r="6"/><circle cx="927.7" cy="200.2" r="6"/><circle cx="894.6" cy="218.2" r="6"/><circle cx="942.7" cy="166.4" r="6"/><circle cx="875.8" cy="238.4" r="6"/><circle cx="894.0" cy="231.4" r="6"/><circle cx="938.5" cy="184.3" r="6"/><circle cx="978.2" cy="141.3" r="6"/><circle cx="909.4" cy="201.5" r="6"/><circle cx="949.4" cy="175.8" r="6"/><circle cx="872.6" cy="238.9" r="6"/><circle cx="911.3" cy="200.2" r="6"/><circle cx="948.0" cy="181.1" r="6"/><circle cx="972.3" cy="141.8" r="6"/><circle cx="890.2" cy="237.8" r="6"/><circle cx="1001.9" cy="119.9" r="6"/><circle cx="979.7" cy="129.7" r="6"/><circle cx="948.6" cy="186.2" r="6"/><circle cx="977.2" cy="156.1" r="6"/><circle cx="904.9" cy="210.7" r="6"/><circle cx="948.0" cy="172.4" r="6"/><circle cx="945.9" cy="179.3" r="6"/><circle cx="923.3" cy="204.3" r="6"/><circle cx="999.1" cy="115.2" r="6"/><circle cx="871.7" cy="247.1" r="6"/><circle cx="993.2" cy="135.4" r="6"/><circle cx="868.2" cy="252.5" r="6"/><circle cx="962.1" cy="153.6" r="6"/><circle cx="883.8" cy="228.7" r="6"/><circle cx="972.6" cy="162.2" r="6"/><circle cx="963.6" cy="166.2" r="6"/><circle cx="914.3" cy="198.9" r="6"/><circle cx="925.9" cy="201.2" r="6"/><circle cx="1002.3" cy="122.6" r="6"/><circle cx="966.0" cy="148.0" r="6"/><circle cx="1008.1" cy="113.5" r="6"/><circle cx="986.6" cy="139.1" r="6"/><circle cx="926.8" cy="183.3" r="6"/><circle cx="988.6" cy="121.7" r="6"/><circle cx="1002.7" cy="131.2" r="6"/><circle cx="883.7" cy="241.8" r="6"/><circle cx="978.6" cy="154.2" r="6"/><circle cx="981.3" cy="147.7" r="6"/><circle cx="926.1" cy="195.4" r="6"/><circle cx="897.9" cy="214.4" r="6"/><circle cx="896.2" cy="216.6" r="6"/><circle cx="876.8" cy="251.5" r="6"/><circle cx="1006.1" cy="115.6" r="6"/><circle cx="896.0" cy="218.8" r="6"/><circle cx="966.5" cy="153.8" r="6"/><circle cx="885.0" cy="240.4" r="6"/><circle cx="985.7" cy="151.5" r="6"/><circle cx="920.4" cy="189.6" r="6"/><circle cx="991.8" cy="144.0" r="6"/><circle cx="954.8" cy="152.4" r="6"/><circle cx="1001.9" cy="119.3" r="6"/><circle cx="888.0" cy="227.8" r="6"/><circle cx="872.0" cy="245.8" r="6"/><circle cx="919.8" cy="195.0" r="6"/><circle cx="974.2" cy="155.7" r="6"/><circle cx="958.5" cy="167.8" r="6"/><circle cx="988.2" cy="146.6" r="6"/><circle cx="881.1" cy="233.5" r="6"/><circle cx="973.0" cy="134.2" r="6"/><circle cx="923.0" cy="193.4" r="6"/><circle cx="989.9" cy="142.8" r="6"/><circle cx="933.5" cy="188.4" r="6"/><circle cx="980.1" cy="148.1" r="6"/><circle cx="952.8" cy="178.3" r="6"/><circle cx="982.1" cy="155.1" r="6"/><circle cx="996.3" cy="123.7" r="6"/><circle cx="985.8" cy="134.4" r="6"/><circle cx="976.1" cy="136.2" r="6"/><circle cx="994.0" cy="132.6" r="6"/><circle cx="904.6" cy="222.1" r="6"/><circle cx="975.7" cy="141.7" r="6"/><circle cx="922.3" cy="193.5" r="6"/><circle cx="868.4" cy="253.6" r="6"/><circle cx="953.3" cy="179.0" r="6"/><circle cx="931.6" cy="186.2" r="6"/><circle cx="986.8" cy="122.9" r="6"/><circle cx="929.6" cy="200.6" r="6"/><circle cx="960.4" cy="148.4" r="6"/><circle cx="996.2" cy="138.8" r="6"/><circle cx="985.4" cy="140.3" r="6"/><circle cx="954.4" cy="161.8" r="6"/><circle cx="979.0" cy="157.3" r="6"/><circle cx="916.6" cy="191.9" r="6"/><circle cx="983.6" cy="142.7" r="6"/><circle cx="993.0" cy="126.7" r="6"/><circle cx="973.6" cy="143.5" r="6"/><circle cx="965.2" cy="170.1" r="6"/><circle cx="984.6" cy="131.2" r="6"/><circle cx="988.0" cy="144.5" r="6"/><circle cx="960.9" cy="157.0" r="6"/><circle cx="933.5" cy="191.1" r="6"/><circle cx="877.8" cy="234.3" r="6"/><circle cx="896.6" cy="231.6" r="6"/><circle cx="872.4" cy="242.4" r="6"/><circle cx="975.7" cy="162.9" r="6"/><circle cx="902.7" cy="207.5" r="6"/><circle cx="964.9" cy="164.7" r="6"/><circle cx="1012.5" cy="116.6" r="6"/><circle cx="909.1" cy="200.7" r="6"/><circle cx="1011.3" cy="119.2" r="6"/><circle cx="885.5" cy="237.4" r="6"/><circle cx="1012.2" cy="115.0" r="6"/><circle cx="990.7" cy="132.5" r="6"/><circle cx="882.8" cy="231.5" r="6"/><circle cx="981.8" cy="130.0" r="6"/><circle cx="971.4" cy="163.6" r="6"/><circle cx="948.5" cy="172.4" r="6"/><circle cx="978.9" cy="147.2" r="6"/><circle cx="958.6" cy="178.2" r="6"/><circle cx="865.0" cy="251.3" r="6"/><circle cx="993.7" cy="126.0" r="6"/><circle cx="876.0" cy="237.5" r="6"/><circle cx="973.7" cy="144.3" r="6"/><circle cx="974.2" cy="154.6" r="6"/><circle cx="899.8" cy="227.9" r="6"/><circle cx="963.6" cy="166.3" r="6"/><circle cx="881.4" cy="231.1" r="6"/><circle cx="943.1" cy="168.6" r="6"/><circle cx="955.6" cy="184.1" r="6"/><circle cx="952.1" cy="183.5" r="6"/><circle cx="928.5" cy="190.3" r="6"/><circle cx="950.1" cy="184.7" r="6"/><circle cx="998.1" cy="133.0" r="6"/><circle cx="899.5" cy="230.7" r="6"/><circle cx="958.8" cy="152.6" r="6"/><circle cx="968.4" cy="168.8" r="6"/><circle cx="958.6" cy="169.1" r="6"/><circle cx="987.0" cy="150.0" r="6"/><circle cx="918.1" cy="199.4" r="6"/><circle cx="965.3" cy="150.5" r="6"/><circle cx="939.0" cy="193.8" r="6"/><circle cx="981.9" cy="127.6" r="6"/><circle cx="980.5" cy="148.1" r="6"/><circle cx="969.7" cy="166.9" r="6"/><circle cx="904.4" cy="213.1" r="6"/><circle cx="916.6" cy="199.3" r="6"/><circle cx="882.4" cy="239.0" r="6"/><circle cx="942.5" cy="189.2" r="6"/><circle cx="1009.8" cy="113.8" r="6"/><circle cx="959.6" cy="155.8" r="6"/><circle cx="893.1" cy="235.9" r="6"/><circle cx="911.9" cy="210.5" r="6"/><circle cx="997.0" cy="127.7" r="6"/><circle cx="970.2" cy="160.1" r="6"/><circle cx="965.7" cy="168.1" r="6"/><circle cx="906.8" cy="205.6" r="6"/><circle cx="975.1" cy="135.8" r="6"/><circle cx="928.6" cy="189.2" r="6"/><circle cx="867.5" cy="247.0" r="6"/><circle cx="879.6" cy="247.7" r="6"/><circle cx="892.4" cy="225.2" r="6"/><circle cx="896.9" cy="231.6" r="6"/><circle cx="969.6" cy="141.9" r="6"/><circle cx="898.6" cy="224.2" r="6"/><circle cx="976.1" cy="148.7" r="6"/><circle cx="912.5" cy="201.8" r="6"/><circle cx="915.7" cy="205.5" r="6"/><circle cx="920.3" cy="191.0" r="6"/><circle cx="922.2" cy="194.7" r="6"/><circle cx="905.3" cy="219.1" r="6"/><circle cx="975.2" cy="161.4" r="6"/><circle cx="963.9" cy="151.4" r="6"/><circle cx="887.4" cy="241.2" r="6"/><circle cx="992.0" cy="136.9" r="6"/><circle cx="1004.8" cy="119.9" r="6"/><circle cx="953.3" cy="157.9" r="6"/><circle cx="919.8" cy="207.9" r="6"/><circle cx="918.9" cy="197.5" r="6"/><circle cx="998.5" cy="119.0" r="6"/><circle cx="948.2" cy="166.1" r="6"/><circle cx="949.8" cy="171.3" r="6"/><circle cx="933.0" cy="191.9" r="6"/><circle cx="1001.5" cy="122.3" r="6"/><circle cx="920.3" cy="208.7" r="6"/><circle cx="944.4" cy="165.5" r="6"/><circle cx="926.5" cy="183.8" r="6"/><circle cx="868.5" cy="247.2" r="6"/><circle cx="927.3" cy="188.6" r="6"/><circle cx="986.0" cy="142.4" r="6"/><circle cx="993.5" cy="141.9" r="6"/><circle cx="939.1" cy="169.5" r="6"/><circle cx="990.5" cy="125.9" r="6"/><circle cx="875.7" cy="249.1" r="6"/><circle cx="941.8" cy="182.6" r="6"/><circle cx="960.0" cy="150.4" r="6"/><circle cx="981.0" cy="140.8" r="6"/><circle cx="979.7" cy="154.4" r="6"/><circle cx="974.0" cy="140.6" r="6"/><circle cx="921.3" cy="206.1" r="6"/><circle cx="886.5" cy="243.1" r="6"/><circle cx="920.3" cy="201.4" r="6"/><circle cx="974.3" cy="138.5" r="6"/><circle cx="949.4" cy="165.0" r="6"/><circle cx="998.2" cy="123.9" r="6"/><circle cx="882.5" cy="236.1" r="6"/><circle cx="965.8" cy="143.3" r="6"/><circle cx="949.1" cy="157.3" r="6"/><circle cx="916.9" cy="208.9" r="6"/><circle cx="975.0" cy="132.7" r="6"/><circle cx="914.8" cy="196.7" r="6"/><circle cx="972.7" cy="157.6" r="6"/><circle cx="936.4" cy="171.6" r="6"/><circle cx="877.1" cy="245.0" r="6"/><circle cx="941.6" cy="180.2" r="6"/><circle cx="878.9" cy="246.0" r="6"/><circle cx="868.8" cy="241.9" r="6"/><circle cx="929.7" cy="179.9" r="6"/><circle cx="923.1" cy="198.0" r="6"/><circle cx="1004.4" cy="125.0" r="6"/><circle cx="944.8" cy="174.2" r="6"/><circle cx="939.2" cy="192.5" r="6"/><circle cx="897.8" cy="230.7" r="6"/><circle cx="943.4" cy="162.9" r="6"/><circle cx="993.4" cy="143.8" r="6"/><circle cx="897.3" cy="223.3" r="6"/><circle cx="905.9" cy="215.0" r="6"/><circle cx="1007.6" cy="122.5" r="6"/><circle cx="892.8" cy="229.7" r="6"/><circle cx="903.1" cy="220.1" r="6"/><circle cx="938.0" cy="172.5" r="6"/><circle cx="922.7" cy="186.4" r="6"/><circle cx="923.9" cy="189.4" r="6"/><circle cx="915.0" cy="197.7" r="6"/><circle cx="990.8" cy="139.3" r="6"/><circle cx="873.3" cy="239.1" r="6"/><circle cx="995.7" cy="123.0" r="6"/><circle cx="921.3" cy="196.1" r="6"/><circle cx="896.5" cy="222.5" r="6"/><circle cx="922.0" cy="188.3" r="6"/><circle cx="962.1" cy="168.3" r="6"/><circle cx="980.6" cy="155.5" r="6"/><circle cx="1006.1" cy="119.3" r="6"/><circle cx="987.2" cy="144.9" r="6"/><circle cx="962.3" cy="158.9" r="6"/><circle cx="904.1" cy="216.6" r="6"/><circle cx="959.6" cy="180.6" r="6"/><circle cx="1003.7" cy="121.2" r="6"/><circle cx="924.7" cy="190.1" r="6"/><circle cx="881.0" cy="241.0" r="6"/><circle cx="964.2" cy="149.3" r="6"/><circle cx="918.6" cy="204.1" r="6"/><circle cx="932.7" cy="186.8" r="6"/><circle cx="1007.9" cy="117.3" r="6"/><circle cx="958.2" cy="169.6" r="6"/><circle cx="936.1" cy="170.8" r="6"/><circle cx="914.3" cy="210.1" r="6"/><circle cx="925.6" cy="186.1" r="6"/><circle cx="933.4" cy="189.4" r="6"/><circle cx="954.7" cy="169.9" r="6"/><circle cx="912.2" cy="210.8" r="6"/><circle cx="915.6" cy="195.1" r="6"/><circle cx="918.1" cy="189.6" r="6"/><circle cx="930.8" cy="193.4" r="6"/><circle cx="937.2" cy="187.0" r="6"/><circle cx="933.0" cy="173.6" r="6"/><circle cx="955.2" cy="169.5" r="6"/><circle cx="997.6" cy="119.8" r="6"/><circle cx="975.0" cy="152.7" r="6"/><circle cx="951.7" cy="183.8" r="6"/><circle cx="984.2" cy="133.9" r="6"/><circle cx="896.5" cy="215.6" r="6"/><circle cx="889.2" cy="235.8" r="6"/><circle cx="886.2" cy="236.7" r="6"/><circle cx="985.8" cy="128.3" r="6"/><circle cx="969.3" cy="142.9" r="6"/><circle cx="937.1" cy="187.9" r="6"/><circle cx="959.2" cy="176.4" r="6"/><circle cx="935.4" cy="182.3" r="6"/><circle cx="962.3" cy="169.5" r="6"/><circle cx="972.7" cy="164.5" r="6"/><circle cx="986.0" cy="150.4" r="6"/><circle cx="959.9" cy="155.6" r="6"/><circle cx="935.9" cy="171.3" r="6"/><circle cx="986.2" cy="136.3" r="6"/><circle cx="1003.9" cy="117.9" r="6"/><circle cx="977.3" cy="161.3" r="6"/><circle cx="940.0" cy="185.9" r="6"/><circle cx="930.4" cy="188.6" r="6"/><circle cx="989.9" cy="148.1" r="6"/><circle cx="882.6" cy="245.8" r="6"/><circle cx="893.2" cy="226.6" r="6"/><circle cx="903.5" cy="208.3" r="6"/><circle cx="1001.5" cy="124.8" r="6"/><circle cx="969.7" cy="159.1" r="6"/><circle cx="873.5" cy="248.6" r="6"/><circle cx="896.5" cy="215.4" r="6"/><circle cx="924.4" cy="202.3" r="6"/><circle cx="918.6" cy="193.0" r="6"/><circle cx="924.2" cy="201.6" r="6"/><circle cx="886.8" cy="229.5" r="6"/><circle cx="954.0" cy="165.1" r="6"/><circle cx="933.4" cy="184.5" r="6"/><circle cx="964.1" cy="146.9" r="6"/><circle cx="994.0" cy="141.3" r="6"/><circle cx="972.0" cy="139.6" r="6"/><circle cx="968.1" cy="158.4" r="6"/><circle cx="977.2" cy="134.2" r="6"/><circle cx="964.3" cy="154.2" r="6"/><circle cx="997.7" cy="120.3" r="6"/><circle cx="966.4" cy="159.4" r="6"/><circle cx="990.7" cy="125.1" r="6"/><circle cx="949.5" cy="170.5" r="6"/><circle cx="893.3" cy="221.7" r="6"/><circle cx="976.9" cy="149.8" r="6"/><circle cx="993.9" cy="126.5" r="6"/><circle cx="907.2" cy="208.4" r="6"/><circle cx="991.4" cy="129.4" r="6"/><circle cx="998.9" cy="130.6" r="6"/><circle cx="1000.5" cy="121.3" r="6"/><circle cx="1005.8" cy="120.9" r="6"/><circle cx="968.0" cy="156.1" r="6"/><circle cx="998.1" cy="132.3" r="6"/><circle cx="919.4" cy="204.1" r="6"/><circle cx="915.5" cy="197.9" r="6"/><circle cx="910.2" cy="210.4" r="6"/><circle cx="923.0" cy="205.0" r="6"/><circle cx="901.7" cy="208.9" r="6"/><circle cx="924.4" cy="194.3" r="6"/><circle cx="869.5" cy="242.0" r="6"/><circle cx="875.6" cy="249.3" r="6"/><circle cx="895.0" cy="222.4" r="6"/><circle cx="967.4" cy="165.3" r="6"/><circle cx="969.8" cy="160.9" r="6"/><circle cx="952.8" cy="175.6" r="6"/><circle cx="873.2" cy="238.3" r="6"/><circle cx="942.8" cy="191.8" r="6"/><circle cx="869.3" cy="256.8" r="6"/><circle cx="872.3" cy="245.0" r="6"/><circle cx="918.3" cy="204.7" r="6"/><circle cx="887.7" cy="240.4" r="6"/><circle cx="865.8" cy="253.6" r="6"/><circle cx="993.9" cy="120.5" r="6"/><circle cx="976.2" cy="137.5" r="6"/><circle cx="926.1" cy="202.3" r="6"/><circle cx="994.0" cy="134.5" r="6"/><circle cx="869.7" cy="247.5" r="6"/><circle cx="915.1" cy="201.0" r="6"/><circle cx="952.2" cy="182.3" r="6"/><circle cx="929.6" cy="193.8" r="6"/><circle cx="877.0" cy="245.2" r="6"/><circle cx="966.8" cy="149.7" r="6"/><circle cx="891.9" cy="224.2" r="6"/><circle cx="962.1" cy="157.3" r="6"/><circle cx="978.2" cy="144.0" r="6"/><circle cx="937.9" cy="178.6" r="6"/><circle cx="945.2" cy="175.3" r="6"/><circle cx="652.0" cy="460.5" r="6"/><circle cx="758.3" cy="360.5" r="6"/><circle cx="759.6" cy="358.9" r="6"/><circle cx="764.9" cy="348.5" r="6"/><circle cx="779.9" cy="335.2" r="6"/><circle cx="787.8" cy="328.4" r="6"/><circle cx="804.7" cy="318.3" r="6"/><circle cx="808.0" cy="311.0" r="6"/><circle cx="810.0" cy="309.0" r="6"/><circle cx="811.0" cy="312.0" r="6"/><circle cx="807.0" cy="307.0" r="6"/><circle cx="812.0" cy="305.0" r="6"/><circle cx="809.0" cy="313.0" r="6"/><circle cx="810.5" cy="307.0" r="6"/><circle cx="806.5" cy="310.0" r="6"/><circle cx="825.6" cy="293.0" r="6"/><circle cx="828.5" cy="291.4" r="6"/><circle cx="837.5" cy="272.0" r="6"/><circle cx="850.5" cy="255.0" r="6"/><circle cx="847.0" cy="275.0" r="6"/><circle cx="849.0" cy="270.0" r="6"/><circle cx="852.0" cy="266.0" r="6"/><circle cx="851.0" cy="271.0" r="6"/><circle cx="854.0" cy="262.0" r="6"/><circle cx="848.0" cy="279.0" r="6"/><circle cx="845.0" cy="281.0" r="6"/><circle cx="850.0" cy="268.0" r="6"/><circle cx="848.5" cy="273.0" r="6"/><circle cx="851.5" cy="264.0" r="6"/><circle cx="849.5" cy="276.0" r="6"/><circle cx="853.0" cy="269.0" r="6"/><circle cx="850.5" cy="272.5" r="6"/><circle cx="852.5" cy="261.0" r="6"/><circle cx="847.5" cy="277.0" r="6"/><circle cx="904.7" cy="240.3" r="6"/><circle cx="973.9" cy="178.5" r="6"/><circle cx="985.2" cy="181.3" r="6"/><circle cx="1012.5" cy="129.5" r="6"/><circle cx="957.9" cy="189.8" r="6"/><circle cx="960.0" cy="186.0" r="6"/><circle cx="862.0" cy="262.0" r="6"/><circle cx="866.0" cy="259.0" r="6"/><circle cx="858.0" cy="266.0" r="6"/><circle cx="870.0" cy="256.0" r="6"/></g>
</g>
<g clip-path="url(#cb)">
<g stroke="#ebebeb" fill="none"><path d="M1307.9 71.0V958.9" stroke-width="1.3"/><path d="M1407.5 71.0V958.9" stroke-width="2.6"/><path d="M1507.0 71.0V958.9" stroke-width="1.3"/><path d="M1606.5 71.0V958.9" stroke-width="2.6"/><path d="M1706.0 71.0V958.9" stroke-width="1.3"/><path d="M1805.6 71.0V958.9" stroke-width="2.6"/><path d="M1905.1 71.0V958.9" stroke-width="1.3"/><path d="M2004.6 71.0V958.9" stroke-width="2.6"/><path d="M2104.1 71.0V958.9" stroke-width="1.3"/><path d="M1207.7 102.5H2123.7" stroke-width="2.6"/><path d="M1207.7 196.3H2123.7" stroke-width="1.3"/><path d="M1207.7 290.1H2123.7" stroke-width="2.6"/><path d="M1207.7 384.0H2123.7" stroke-width="1.3"/><path d="M1207.7 477.8H2123.7" stroke-width="2.6"/><path d="M1207.7 571.6H2123.7" stroke-width="1.3"/><path d="M1207.7 665.5H2123.7" stroke-width="2.6"/><path d="M1207.7 759.3H2123.7" stroke-width="1.3"/><path d="M1207.7 853.1H2123.7" stroke-width="2.6"/><path d="M1207.7 946.9H2123.7" stroke-width="1.3"/></g>
<rect x="1215" y="805" width="596" height="144.5" fill="#fff"/>
<g fill="#1b9e77" stroke="#1b9e77" fill-opacity=".6" stroke-opacity=".6" stroke-width="1.5"><circle cx="1274.4" cy="512.0" r="7.2"/><circle cx="1295.1" cy="516.7" r="7.2"/><circle cx="1266.8" cy="535.2" r="7.2"/><circle cx="1284.1" cy="532.9" r="7.2"/><circle cx="1286.0" cy="542.3" r="7.2"/><circle cx="1308.8" cy="534.8" r="7.2"/><circle cx="1321.4" cy="536.1" r="7.2"/><circle cx="1344.6" cy="536.5" r="7.2"/><circle cx="1334.4" cy="554.9" r="7.2"/><circle cx="1332.3" cy="566.2" r="7.2"/><circle cx="1248.6" cy="589.2" r="7.2"/><circle cx="1332.9" cy="588.8" r="7.2"/><circle cx="1351.2" cy="604.6" r="7.2"/><circle cx="1391.2" cy="546.5" r="7.2"/><circle cx="1415.5" cy="557.8" r="7.2"/><circle cx="1436.8" cy="564.9" r="7.2"/><circle cx="1426.8" cy="577.3" r="7.2"/><circle cx="1385.0" cy="581.3" r="7.2"/><circle cx="1403.3" cy="592.6" r="7.2"/><circle cx="1379.8" cy="601.6" r="7.2"/><circle cx="1470.5" cy="581.9" r="7.2"/><circle cx="1486.1" cy="576.4" r="7.2"/><circle cx="1497.4" cy="551.2" r="7.2"/><circle cx="1531.3" cy="575.3" r="7.2"/><circle cx="1544.5" cy="571.9" r="7.2"/><circle cx="1555.4" cy="567.4" r="7.2"/><circle cx="1568.4" cy="580.9" r="7.2"/><circle cx="1579.7" cy="560.2" r="7.2"/><circle cx="1575.0" cy="591.8" r="7.2"/><circle cx="1602.5" cy="582.8" r="7.2"/><circle cx="1520.0" cy="608.6" r="7.2"/><circle cx="1556.7" cy="608.0" r="7.2"/><circle cx="1539.4" cy="617.8" r="7.2"/><circle cx="1586.5" cy="612.7" r="7.2"/><circle cx="1449.8" cy="627.6" r="7.2"/><circle cx="1462.0" cy="624.4" r="7.2"/><circle cx="1508.7" cy="631.2" r="7.2"/><circle cx="1419.3" cy="636.4" r="7.2"/><circle cx="1438.7" cy="642.8" r="7.2"/><circle cx="1521.5" cy="652.3" r="7.2"/><circle cx="1473.9" cy="658.8" r="7.2"/><circle cx="1367.9" cy="664.7" r="7.2"/><circle cx="1426.8" cy="673.9" r="7.2"/><circle cx="1356.6" cy="762.4" r="7.2"/><circle cx="1620.6" cy="521.1" r="7.2"/><circle cx="1621.2" cy="607.1" r="7.2"/><circle cx="1624.9" cy="612.7" r="7.2"/><circle cx="1698.9" cy="587.5" r="7.2"/><circle cx="1727.9" cy="587.5" r="7.2"/><circle cx="1720.6" cy="646.0" r="7.2"/><circle cx="1813.2" cy="615.9" r="7.2"/><circle cx="1829.2" cy="587.9" r="7.2"/><circle cx="1896.4" cy="592.4" r="7.2"/><circle cx="1928.9" cy="641.5" r="7.2"/><circle cx="1927.9" cy="646.5" r="7.2"/><circle cx="1941.2" cy="645.9" r="7.2"/><circle cx="1954.4" cy="646.6" r="7.2"/><circle cx="1883.8" cy="657.6" r="7.2"/><circle cx="1965.6" cy="654.8" r="7.2"/><circle cx="1977.2" cy="667.6" r="7.2"/><circle cx="1981.9" cy="658.7" r="7.2"/><circle cx="1990.4" cy="664.9" r="7.2"/><circle cx="1993.2" cy="661.2" r="7.2"/><circle cx="2003.2" cy="669.1" r="7.2"/><circle cx="2000.2" cy="672.3" r="7.2"/><circle cx="1991.5" cy="632.0" r="7.2"/><circle cx="2013.4" cy="645.2" r="7.2"/><circle cx="2025.8" cy="655.9" r="7.2"/><circle cx="2049.1" cy="640.4" r="7.2"/><circle cx="2068.7" cy="653.1" r="7.2"/><circle cx="2072.9" cy="672.3" r="7.2"/><circle cx="2036.5" cy="695.8" r="7.2"/><circle cx="2051.6" cy="702.9" r="7.2"/><circle cx="2017.7" cy="719.3" r="7.2"/><circle cx="1873.7" cy="777.5" r="7.2"/><circle cx="1920.4" cy="764.6" r="7.2"/><circle cx="2061.0" cy="824.4" r="7.2"/><circle cx="1912.7" cy="865.0" r="7.2"/><circle cx="2084.2" cy="920.0" r="7.2"/></g>
<g fill="#d95f02" stroke="#d95f02" fill-opacity=".6" stroke-opacity=".6" stroke-width="1.5"><circle cx="1274.4" cy="110.7" r="7.2"/><circle cx="1295.1" cy="119.2" r="7.2"/><circle cx="1266.8" cy="136.1" r="7.2"/><circle cx="1284.1" cy="136.1" r="7.2"/><circle cx="1285.6" cy="147.8" r="7.2"/><circle cx="1308.8" cy="137.8" r="7.2"/><circle cx="1321.4" cy="144.4" r="7.2"/><circle cx="1344.6" cy="143.6" r="7.2"/><circle cx="1334.4" cy="167.7" r="7.2"/><circle cx="1332.3" cy="181.6" r="7.2"/><circle cx="1248.6" cy="198.2" r="7.2"/><circle cx="1332.9" cy="204.2" r="7.2"/><circle cx="1351.2" cy="216.5" r="7.2"/><circle cx="1391.2" cy="174.1" r="7.2"/><circle cx="1415.5" cy="175.4" r="7.2"/><circle cx="1436.8" cy="186.9" r="7.2"/><circle cx="1426.4" cy="194.8" r="7.2"/><circle cx="1385.8" cy="195.2" r="7.2"/><circle cx="1403.3" cy="220.6" r="7.2"/><circle cx="1379.8" cy="233.4" r="7.2"/><circle cx="1470.5" cy="204.2" r="7.2"/><circle cx="1486.1" cy="190.7" r="7.2"/><circle cx="1497.4" cy="169.2" r="7.2"/><circle cx="1531.3" cy="194.8" r="7.2"/><circle cx="1544.5" cy="184.7" r="7.2"/><circle cx="1555.4" cy="183.9" r="7.2"/><circle cx="1568.4" cy="193.5" r="7.2"/><circle cx="1579.7" cy="166.4" r="7.2"/><circle cx="1575.0" cy="208.9" r="7.2"/><circle cx="1602.5" cy="200.7" r="7.2"/><circle cx="1520.0" cy="229.6" r="7.2"/><circle cx="1556.3" cy="224.9" r="7.2"/><circle cx="1539.4" cy="242.6" r="7.2"/><circle cx="1586.5" cy="233.4" r="7.2"/><circle cx="1449.8" cy="253.2" r="7.2"/><circle cx="1462.0" cy="251.7" r="7.2"/><circle cx="1508.7" cy="259.4" r="7.2"/><circle cx="1419.3" cy="268.2" r="7.2"/><circle cx="1438.7" cy="267.9" r="7.2"/><circle cx="1521.5" cy="284.3" r="7.2"/><circle cx="1473.9" cy="290.5" r="7.2"/><circle cx="1367.9" cy="290.5" r="7.2"/><circle cx="1426.8" cy="308.4" r="7.2"/><circle cx="1356.6" cy="419.3" r="7.2"/><circle cx="1620.2" cy="122.7" r="7.2"/><circle cx="1621.2" cy="228.1" r="7.2"/><circle cx="1624.9" cy="235.3" r="7.2"/><circle cx="1698.9" cy="199.9" r="7.2"/><circle cx="1727.9" cy="199.9" r="7.2"/><circle cx="1720.6" cy="266.2" r="7.2"/><circle cx="1813.2" cy="222.1" r="7.2"/><circle cx="1829.2" cy="194.3" r="7.2"/><circle cx="1896.4" cy="194.4" r="7.2"/><circle cx="1927.6" cy="253.9" r="7.2"/><circle cx="1929.2" cy="255.5" r="7.2"/><circle cx="1941.2" cy="251.3" r="7.2"/><circle cx="1954.4" cy="255.1" r="7.2"/><circle cx="1883.8" cy="272.3" r="7.2"/><circle cx="1965.6" cy="261.7" r="7.2"/><circle cx="1977.2" cy="275.4" r="7.2"/><circle cx="1981.9" cy="267.9" r="7.2"/><circle cx="1990.4" cy="273.2" r="7.2"/><circle cx="1992.3" cy="265.6" r="7.2"/><circle cx="2003.2" cy="266.0" r="7.2"/><circle cx="2000.2" cy="282.0" r="7.2"/><circle cx="1991.5" cy="229.3" r="7.2"/><circle cx="2013.4" cy="243.6" r="7.2"/><circle cx="2025.8" cy="257.4" r="7.2"/><circle cx="2048.8" cy="247.2" r="7.2"/><circle cx="2068.7" cy="248.3" r="7.2"/><circle cx="2072.9" cy="278.8" r="7.2"/><circle cx="2036.9" cy="303.3" r="7.2"/><circle cx="2051.0" cy="303.3" r="7.2"/><circle cx="2017.7" cy="331.2" r="7.2"/><circle cx="1873.7" cy="405.6" r="7.2"/><circle cx="1920.4" cy="401.1" r="7.2"/><circle cx="2061.0" cy="451.4" r="7.2"/><circle cx="1912.7" cy="507.1" r="7.2"/><circle cx="2084.2" cy="558.1" r="7.2"/></g>
<path d="M1248.6 555.5L2084.2 700.4" stroke="#1b9e77" stroke-width="3.6" fill="none"/>
<path d="M1248.6 175.4L2084.2 310.7" stroke="#d95f02" stroke-width="3.6" fill="none"/>
</g>
<rect x="135.1" y="71.0" width="918.6" height="889.0" fill="none" stroke="#4a4a4a" stroke-width="2"/>
<rect x="1207.7" y="71.0" width="915.9999999999998" height="887.9" fill="none" stroke="#2e2e2e" stroke-width="2.2"/>
<path d="M147.0 960.0v8.6M1208.4 958.9v9.7M343.2 960.0v8.6M1407.5 958.9v9.7M539.5 960.0v8.6M1606.5 958.9v9.7M735.8 960.0v8.6M1805.6 958.9v9.7M932.0 960.0v8.6M2004.6 958.9v9.7M135.1 236.1h-10M135.1 429.1h-10M135.1 622.2h-10M135.1 815.3h-10M1207.7 102.5h-10M1207.7 290.1h-10M1207.7 477.8h-10M1207.7 665.5h-10M1207.7 853.1h-10" stroke="#2e2e2e" stroke-width="3.8" fill="none"/>
<g class="nk" font-size="29.6" fill="#4d4d4d">
<text x="146.2" y="997.8" text-anchor="middle">3.50</text>
<text x="1207.6" y="997.8" text-anchor="middle">3.50</text>
<text x="342.4" y="997.8" text-anchor="middle">3.75</text>
<text x="1406.7" y="997.8" text-anchor="middle">3.75</text>
<text x="538.7" y="997.8" text-anchor="middle">4.00</text>
<text x="1605.7" y="997.8" text-anchor="middle">4.00</text>
<text x="735.0" y="997.8" text-anchor="middle">4.25</text>
<text x="1804.8" y="997.8" text-anchor="middle">4.25</text>
<text x="931.2" y="997.8" text-anchor="middle">4.50</text>
<text x="2003.8" y="997.8" text-anchor="middle">4.50</text>
<text x="117.6" y="246.7" text-anchor="end">4.50</text>
<text x="117.6" y="439.8" text-anchor="end">4.25</text>
<text x="117.6" y="632.8" text-anchor="end">4.00</text>
<text x="117.6" y="825.9" text-anchor="end">3.75</text>
<text x="1189.6" y="113.1" text-anchor="end">0.85</text>
<text x="1189.6" y="300.8" text-anchor="end">0.80</text>
<text x="1189.6" y="488.4" text-anchor="end">0.75</text>
<text x="1189.6" y="676.1" text-anchor="end">0.70</text>
<text x="1189.6" y="863.7" text-anchor="end">0.65</text>
</g>
<g font-size="36.5" fill="#000">
<text x="596" y="1039.2" text-anchor="middle">Variants in the 1000 Genomes Project callset (M)</text>
<text x="1668" y="1039.2" text-anchor="middle">Variants in the 1000 Genomes Project callset (M)</text>
<text transform="translate(43 512) rotate(-90)" text-anchor="middle">Variants called by HPRC−Giraffe−DeepVariant (M)</text>
<text transform="translate(1116 513) rotate(-90)" text-anchor="middle">Proportion of mapped reads aligning perfectly</text>
<text x="160.8" y="127.5">Super−population</text>
<text x="1232.6" y="853.4">Mapping approach</text>
</g>
<g class="nk" font-size="29.6" fill="#000">
<circle cx="188.4" cy="178.9" r="5" fill="#e41a1c"/>
<text x="237.6" y="188.8">AFR</text>
<circle cx="188.4" cy="236.4" r="5" fill="#377eb8"/>
<text x="237.6" y="246.3">AMR</text>
<circle cx="188.4" cy="293.6" r="5" fill="#4daf4a"/>
<text x="237.6" y="303.5">EAS</text>
<circle cx="348.5" cy="178.9" r="5" fill="#984ea3"/>
<text x="397.9" y="188.8">EUR</text>
<circle cx="348.5" cy="236.4" r="5" fill="#ff7f00"/>
<text x="397.9" y="246.3">SAS</text>
<path d="M1239.8 904h46" stroke="#1b9e77" stroke-width="4.6" fill="none"/>
<circle cx="1262.8" cy="904" r="7.2" fill="#1b9e77" fill-opacity="0.6" stroke="#1b9e77" stroke-opacity="0.6" stroke-width="1.5"/>
<text x="1309.6" y="915">GRCh38−BWA</text>
<path d="M1532.4 904h46" stroke="#d95f02" stroke-width="4.6" fill="none"/>
<circle cx="1555.4" cy="904" r="7.2" fill="#d95f02" fill-opacity="0.6" stroke="#d95f02" stroke-opacity="0.6" stroke-width="1.5"/>
<text x="1603.2" y="915">HPRC−Giraffe</text>
</g>
<g font-size="45" font-weight="bold" fill="#000">
<text x="-1.8" y="31.6">a</text>
<text x="1070.4" y="31.6">b</text>
</g>
</svg>
</body></html>
